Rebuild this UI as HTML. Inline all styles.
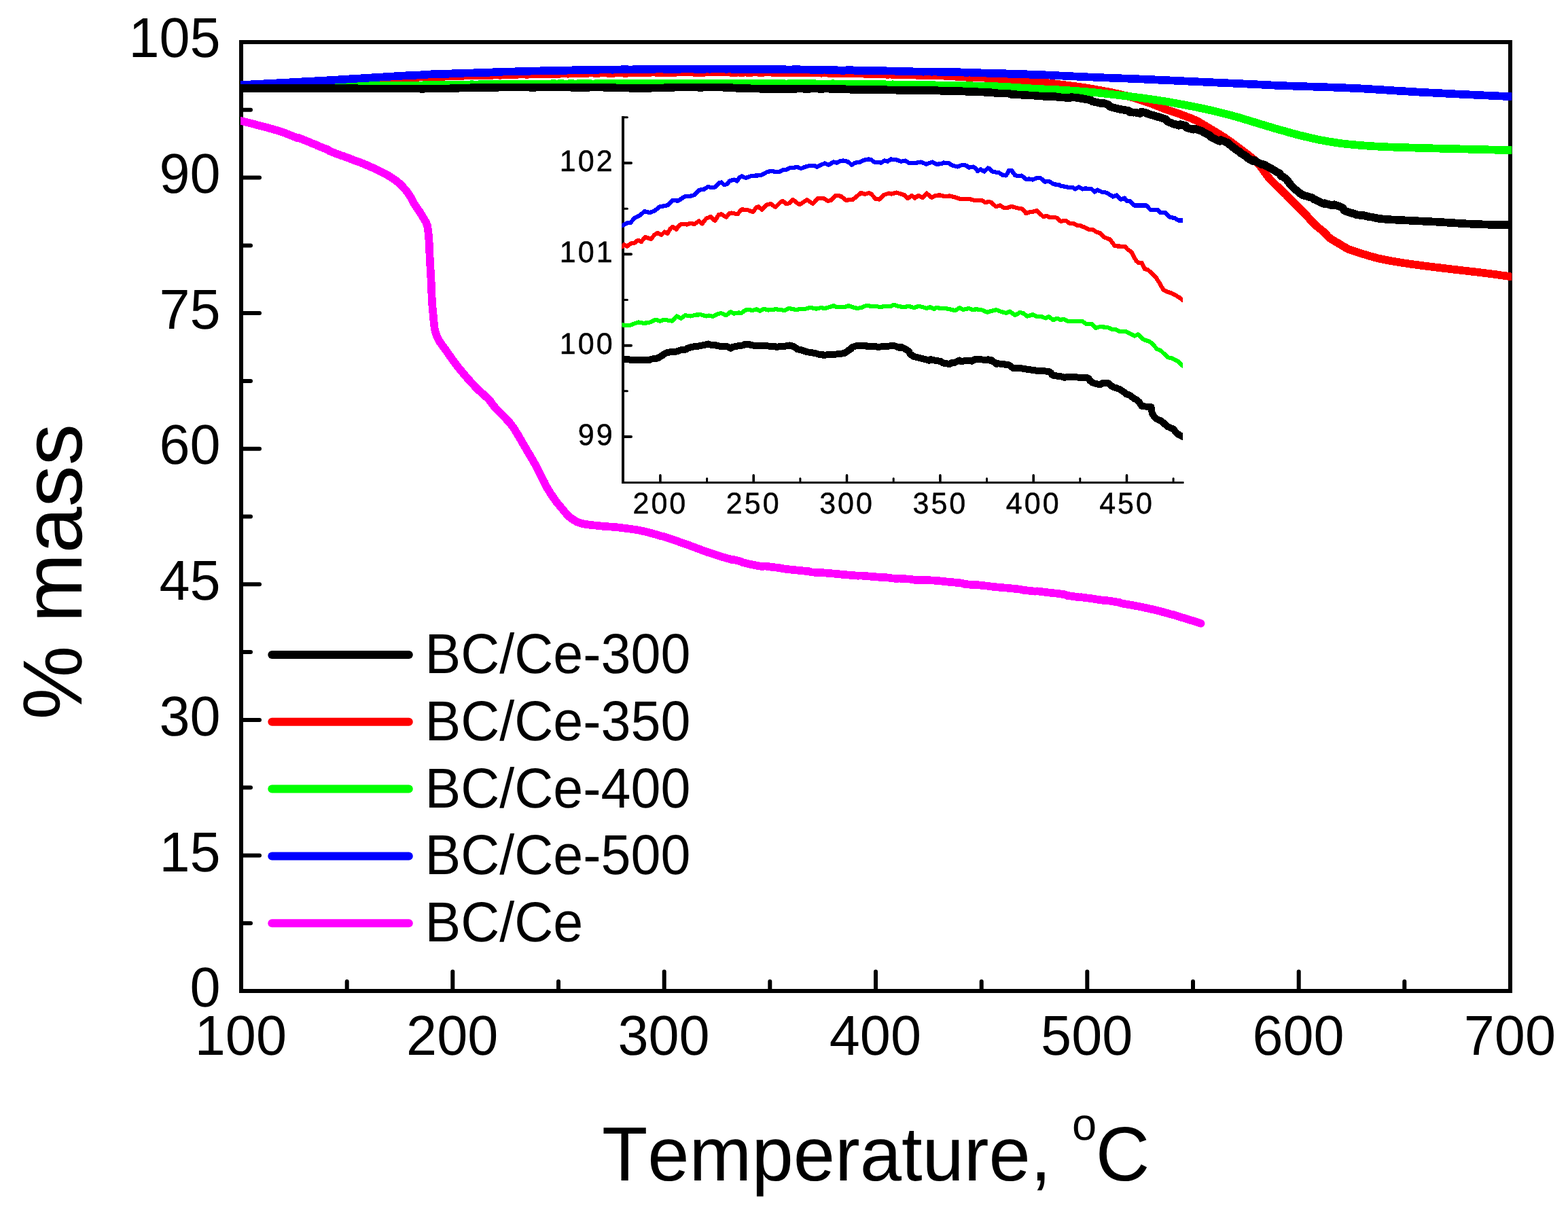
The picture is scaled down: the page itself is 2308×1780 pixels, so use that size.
<!DOCTYPE html>
<html lang="en"><head><meta charset="utf-8"><title>% mass vs Temperature</title>
<style>
html,body{margin:0;padding:0;background:#fff;}
body{width:2308px;height:1780px;overflow:hidden;}
svg{display:block;}
text{font-family:"Liberation Sans",sans-serif;fill:#000;font-kerning:none;font-feature-settings:"kern" 0,"liga" 0;text-rendering:geometricPrecision;}
.tick{font-size:81px;}
.leg{font-size:79px;}
.itick{font-size:43px;letter-spacing:3px;stroke:#000;stroke-width:0.5px;}
.curve{fill:none;stroke-linejoin:round;stroke-linecap:butt;}
.crisp{shape-rendering:crispEdges;}
</style></head><body>
<svg width="2308" height="1780" viewBox="0 0 2308 1780">
<rect x="0" y="0" width="2308" height="1780" fill="#fff"/>
<g id="main-axes" stroke="#000" fill="none">
<rect x="355.0" y="62.0" width="1868.0" height="1397.0" stroke-width="6" stroke-linejoin="miter"/>
<g stroke-width="6" stroke-linecap="round">
<line x1="355.0" y1="1359.2" x2="369" y2="1359.2"/>
<line x1="355.0" y1="1259.4" x2="382" y2="1259.4"/>
<line x1="355.0" y1="1159.6" x2="369" y2="1159.6"/>
<line x1="355.0" y1="1059.9" x2="382" y2="1059.9"/>
<line x1="355.0" y1="960.1" x2="369" y2="960.1"/>
<line x1="355.0" y1="860.3" x2="382" y2="860.3"/>
<line x1="355.0" y1="760.5" x2="369" y2="760.5"/>
<line x1="355.0" y1="660.7" x2="382" y2="660.7"/>
<line x1="355.0" y1="560.9" x2="369" y2="560.9"/>
<line x1="355.0" y1="461.1" x2="382" y2="461.1"/>
<line x1="355.0" y1="361.4" x2="369" y2="361.4"/>
<line x1="355.0" y1="261.6" x2="382" y2="261.6"/>
<line x1="355.0" y1="161.8" x2="369" y2="161.8"/>
<line x1="510.7" y1="1459.0" x2="510.7" y2="1445"/>
<line x1="666.3" y1="1459.0" x2="666.3" y2="1430.5"/>
<line x1="822.0" y1="1459.0" x2="822.0" y2="1445"/>
<line x1="977.7" y1="1459.0" x2="977.7" y2="1430.5"/>
<line x1="1133.3" y1="1459.0" x2="1133.3" y2="1445"/>
<line x1="1289.0" y1="1459.0" x2="1289.0" y2="1430.5"/>
<line x1="1444.7" y1="1459.0" x2="1444.7" y2="1445"/>
<line x1="1600.3" y1="1459.0" x2="1600.3" y2="1430.5"/>
<line x1="1756.0" y1="1459.0" x2="1756.0" y2="1445"/>
<line x1="1911.7" y1="1459.0" x2="1911.7" y2="1430.5"/>
<line x1="2067.3" y1="1459.0" x2="2067.3" y2="1445"/>
</g></g>
<g id="y-labels">
<text transform="translate(324.6,1482.2) scale(1,1.022)" class="tick" text-anchor="end">0</text>
<text transform="translate(324.6,1282.5) scale(1,1.022)" class="tick" text-anchor="end">15</text>
<text transform="translate(324.6,1082.7) scale(1,1.022)" class="tick" text-anchor="end">30</text>
<text transform="translate(324.6,883.0) scale(1,1.022)" class="tick" text-anchor="end">45</text>
<text transform="translate(324.6,683.2) scale(1,1.022)" class="tick" text-anchor="end">60</text>
<text transform="translate(324.6,483.5) scale(1,1.022)" class="tick" text-anchor="end">75</text>
<text transform="translate(324.6,283.7) scale(1,1.022)" class="tick" text-anchor="end">90</text>
<text transform="translate(324.6,84.0) scale(1,1.022)" class="tick" text-anchor="end">105</text>
</g>
<g id="x-labels">
<text transform="translate(354.4,1553.0) scale(1,1.022)" class="tick" text-anchor="middle">100</text>
<text transform="translate(665.7,1553.0) scale(1,1.022)" class="tick" text-anchor="middle">200</text>
<text transform="translate(977.1,1553.0) scale(1,1.022)" class="tick" text-anchor="middle">300</text>
<text transform="translate(1288.4,1553.0) scale(1,1.022)" class="tick" text-anchor="middle">400</text>
<text transform="translate(1599.7,1553.0) scale(1,1.022)" class="tick" text-anchor="middle">500</text>
<text transform="translate(1911.1,1553.0) scale(1,1.022)" class="tick" text-anchor="middle">600</text>
<text transform="translate(2222.4,1553.0) scale(1,1.022)" class="tick" text-anchor="middle">700</text>
</g>
<text id="y-title" transform="translate(120.2,1059.6) rotate(-90) scale(1,1.01)" font-size="122.5px">% mass</text>
<text id="x-title" transform="translate(886,1738.2) scale(1,1.025)" font-size="110.2px">Temperature, <tspan font-size="65px" dy="-59.2">o</tspan><tspan dy="59.2" dx="-1.5">C</tspan></text>
<defs><clipPath id="clip-main"><rect x="354.0" y="0" width="1871.2" height="1780"/></clipPath><clipPath id="clip-inset"><rect x="915.6" y="0" width="825.4" height="1780"/></clipPath></defs>
<g id="main-curves" class="curve" clip-path="url(#clip-main)">
<g stroke="#f0f"><path id="c-mag" class="crisp" stroke-width="11.7" d="M346.0,175.8 L354.0,177.8 L356.9,178.5 L359.8,179.2 L362.8,179.9 L365.7,180.7 L368.6,181.4 L371.5,182.2 L374.4,182.9 L377.3,183.7 L380.2,184.5 L383.1,185.2 L386.0,186.0 L388.9,186.7 L391.8,187.5 L394.7,188.3 L397.6,189.1 L400.5,189.9 L403.4,190.8 L406.3,191.6 L409.1,192.5 L412.0,193.4 L414.8,194.4 L417.7,195.3 L420.5,196.3 L423.3,197.3 L426.2,198.7 L429.0,199.8 L431.8,200.8 L434.6,201.9 L437.4,203.0 L440.2,203.2 L443.0,204.3 L445.8,205.4 L448.6,206.5 L451.4,207.7 L454.1,208.8 L456.9,209.9 L459.7,211.1 L462.5,212.2 L465.3,213.3 L468.1,214.8 L470.9,215.9 L473.7,217.0 L476.5,218.1 L479.3,219.1 L482.1,220.2 L484.9,222.3 L487.7,223.4 L490.5,224.5 L493.3,225.6 L496.1,226.7 L498.9,227.7 L501.7,228.8 L504.5,229.6 L507.3,230.7 L510.2,231.7 L513.0,232.8 L515.8,233.9 L518.6,235.0 L521.4,236.1 L524.2,236.9 L527.0,238.0 L529.8,239.1 L532.6,240.2 L535.4,241.3 L538.1,242.4 L540.9,243.6 L543.7,244.8 L546.4,246.0 L549.1,247.2 L551.9,248.5 L554.6,249.8 L557.3,251.1 L560.0,252.4 L562.7,253.8 L565.4,255.2 L568.0,256.5 L570.6,258.0 L573.2,259.5 L575.7,261.1 L578.2,262.7 L580.7,264.4 L583.2,266.2 L585.6,268.1 L587.8,270.0 L590.0,272.0 L592.1,274.1 L594.2,276.6 L596.2,278.8 L598.2,281.2 L600.0,283.5 L601.8,286.0 L603.4,288.4 L604.9,291.0 L606.3,293.8 L607.7,296.5 L609.2,299.1 L610.7,301.7 L612.4,304.2 L614.1,306.7 L615.9,309.2 L617.6,311.6 L619.2,314.1 L620.8,316.7 L622.3,319.3 L623.9,321.9 L625.5,324.6 L627.0,327.3 L628.1,330.0 L629.0,332.2 L629.5,335.0 L629.9,337.9 L630.3,340.9 L630.6,343.9 L630.9,347.0 L631.2,350.0 L631.4,353.0 L631.6,356.0 L631.8,359.0 L631.9,362.0 L632.1,365.0 L632.2,368.0 L632.3,371.0 L632.4,374.0 L632.6,377.0 L632.7,380.0 L632.8,383.0 L633.0,386.0 L633.2,389.0 L633.4,392.0 L633.5,395.0 L633.7,398.0 L633.9,401.0 L634.1,404.0 L634.3,407.0 L634.4,410.0 L634.6,413.0 L634.7,416.0 L634.9,419.0 L635.0,422.0 L635.1,425.0 L635.2,428.0 L635.3,431.0 L635.5,434.1 L635.6,437.1 L635.8,440.1 L635.9,443.1 L636.1,446.0 L636.3,449.0 L636.6,452.0 L636.8,455.0 L637.1,458.0 L637.4,461.0 L637.7,464.0 L637.9,467.0 L638.2,470.0 L638.5,473.0 L638.8,476.0 L639.2,479.0 L639.6,482.8 L640.1,485.7 L640.8,488.6 L641.8,491.5 L642.9,494.3 L644.1,497.1 L645.4,499.8 L646.8,502.4 L648.4,504.9 L650.2,507.3 L652.0,509.8 L653.8,512.2 L655.6,514.6 L657.3,517.1 L659.0,519.6 L660.7,521.9 L662.4,524.4 L664.1,526.8 L665.8,529.3 L667.6,531.7 L669.4,534.1 L671.2,536.5 L673.1,538.9 L674.9,541.2 L676.8,543.6 L678.7,545.9 L680.7,548.2 L682.6,550.5 L684.5,552.8 L686.5,555.1 L688.5,557.3 L690.5,559.6 L692.5,561.8 L694.5,564.0 L696.6,566.2 L698.6,568.4 L700.7,570.6 L702.8,572.7 L705.0,574.8 L707.2,576.8 L709.5,578.8 L711.8,580.8 L714.0,582.8 L716.2,584.9 L718.2,586.6 L720.2,588.8 L722.0,591.2 L723.8,593.7 L725.5,596.1 L727.4,598.4 L729.4,600.7 L731.5,602.9 L733.6,605.1 L735.7,607.2 L737.8,609.4 L740.0,611.5 L742.1,613.7 L744.2,615.8 L746.3,618.1 L748.3,620.3 L750.3,622.5 L752.2,624.8 L753.9,627.2 L755.7,629.6 L757.3,632.1 L758.9,634.6 L760.5,637.2 L762.1,639.8 L763.6,642.4 L765.1,645.0 L766.6,647.6 L768.1,650.2 L769.6,652.8 L771.2,655.4 L772.7,658.0 L774.3,660.5 L775.9,663.7 L777.5,666.3 L779.1,668.8 L780.6,671.4 L782.1,674.0 L783.7,676.6 L785.1,679.2 L786.5,681.8 L787.9,683.5 L789.2,686.2 L790.5,688.9 L791.8,691.6 L793.1,694.3 L794.4,697.0 L795.8,699.7 L797.1,702.4 L798.5,705.1 L799.9,707.7 L801.4,710.3 L802.9,714.1 L804.4,716.7 L806.0,719.3 L807.5,721.8 L809.1,724.4 L810.7,726.9 L812.4,729.4 L814.1,731.9 L815.8,734.4 L817.5,736.8 L819.3,739.3 L821.1,741.7 L823.0,743.6 L824.9,745.9 L826.8,748.2 L828.7,750.5 L830.6,752.9 L832.6,755.3 L834.6,757.5 L836.7,759.7 L838.9,761.7 L841.2,763.3 L843.7,765.0 L846.3,766.7 L848.9,768.2 L851.7,769.4 L854.5,770.3 L857.3,771.1 L860.3,771.5 L863.3,772.1 L866.3,772.5 L869.3,772.9 L872.2,773.2 L875.2,773.5 L878.2,773.8 L881.2,774.0 L884.2,774.5 L887.2,774.8 L890.2,775.0 L893.2,775.2 L896.2,775.4 L899.2,775.6 L902.2,775.8 L905.2,776.1 L908.2,776.3 L911.2,776.7 L914.2,777.1 L917.2,777.4 L920.2,777.8 L923.2,778.2 L926.1,778.5 L929.1,778.9 L932.1,779.4 L935.1,779.8 L938.0,780.3 L941.0,780.8 L943.9,781.5 L946.9,782.1 L949.8,782.7 L952.7,783.4 L955.6,784.2 L958.5,785.0 L961.4,785.8 L964.3,786.6 L967.2,787.5 L970.1,788.3 L973.0,789.2 L975.9,789.8 L978.7,790.7 L981.6,791.6 L984.5,792.4 L987.3,793.4 L990.2,794.6 L993.1,795.5 L995.9,796.5 L998.8,797.4 L1001.6,798.4 L1004.4,799.4 L1007.3,800.4 L1010.1,801.3 L1013.0,802.3 L1015.8,803.4 L1018.6,804.4 L1021.4,805.5 L1024.2,806.6 L1027.0,807.6 L1029.9,808.7 L1032.7,809.8 L1035.5,810.8 L1038.3,811.9 L1041.1,812.9 L1044.0,813.6 L1046.8,814.6 L1049.7,815.5 L1052.5,816.4 L1055.4,817.3 L1058.2,818.4 L1061.1,819.3 L1064.0,820.2 L1066.9,821.0 L1069.8,821.9 L1072.7,822.7 L1075.5,823.5 L1078.4,824.3 L1081.3,824.3 L1084.3,825.1 L1087.2,825.8 L1090.1,826.6 L1093.0,828.1 L1095.9,828.8 L1098.8,829.5 L1101.8,830.2 L1104.7,830.9 L1107.6,831.5 L1110.6,832.1 L1113.5,832.6 L1116.5,833.1 L1119.4,833.6 L1122.4,834.1 L1125.4,833.4 L1128.4,833.8 L1131.3,834.2 L1134.3,834.6 L1137.3,835.0 L1140.3,835.3 L1143.3,835.7 L1146.3,836.1 L1149.3,836.4 L1152.2,837.2 L1155.2,837.6 L1158.2,838.0 L1161.2,838.3 L1164.2,838.7 L1167.2,838.9 L1170.1,839.2 L1173.1,839.5 L1176.1,839.8 L1179.1,840.1 L1182.1,840.4 L1185.1,840.7 L1188.1,840.9 L1191.1,841.2 L1194.1,842.3 L1197.1,842.5 L1200.1,842.8 L1203.1,843.0 L1206.1,842.9 L1209.1,843.1 L1212.0,843.3 L1215.0,843.5 L1218.0,843.9 L1221.0,844.1 L1224.0,844.3 L1227.0,844.6 L1230.0,844.8 L1233.0,845.0 L1236.0,845.5 L1239.0,845.7 L1242.0,846.0 L1245.0,846.2 L1248.0,846.4 L1251.0,846.7 L1254.0,846.9 L1257.0,847.2 L1260.0,847.4 L1263.0,847.7 L1266.0,847.4 L1269.0,847.6 L1272.0,847.9 L1275.0,848.1 L1278.0,848.4 L1280.9,848.6 L1283.9,848.9 L1286.9,849.1 L1289.9,849.4 L1292.9,849.6 L1295.9,849.9 L1298.9,849.9 L1301.9,850.1 L1304.9,850.3 L1307.9,850.6 L1310.9,851.2 L1313.9,851.4 L1316.9,851.7 L1319.9,851.9 L1322.9,851.6 L1325.9,851.8 L1328.9,852.0 L1331.9,852.2 L1334.9,852.4 L1337.9,852.6 L1340.9,852.8 L1343.9,853.6 L1346.9,853.8 L1349.9,853.9 L1352.9,854.1 L1355.9,854.3 L1358.9,853.7 L1361.9,853.9 L1364.9,854.1 L1367.9,854.2 L1370.9,854.4 L1373.9,854.6 L1376.9,854.8 L1379.9,855.0 L1382.8,855.3 L1385.8,855.5 L1388.8,856.1 L1391.8,856.3 L1394.8,856.6 L1397.8,856.9 L1400.8,857.1 L1403.8,857.4 L1406.8,857.7 L1409.8,858.0 L1412.8,858.3 L1415.8,858.6 L1418.8,859.7 L1421.7,860.1 L1424.7,860.4 L1427.7,860.7 L1430.7,861.0 L1433.7,861.3 L1436.7,861.0 L1439.7,861.3 L1442.7,861.6 L1445.7,861.9 L1448.6,862.2 L1451.6,862.5 L1454.6,862.8 L1457.6,863.4 L1460.6,863.7 L1463.6,864.0 L1466.6,864.3 L1469.6,864.6 L1472.6,864.8 L1475.6,865.1 L1478.5,865.4 L1481.5,865.6 L1484.5,865.9 L1487.5,866.2 L1490.5,866.5 L1493.5,866.8 L1496.5,867.1 L1499.5,867.5 L1502.5,867.8 L1505.4,868.6 L1508.4,869.0 L1511.4,869.3 L1514.4,869.6 L1517.4,870.0 L1520.4,870.3 L1523.4,870.7 L1526.3,870.3 L1529.3,870.7 L1532.3,871.1 L1535.3,871.4 L1538.3,871.8 L1541.3,872.2 L1544.2,872.6 L1547.2,872.9 L1550.2,873.3 L1553.2,873.4 L1556.2,873.8 L1559.1,874.2 L1562.1,874.6 L1565.1,875.0 L1568.1,875.4 L1571.0,876.9 L1574.0,877.3 L1577.0,877.7 L1580.0,878.1 L1582.9,878.5 L1585.9,879.0 L1588.9,879.4 L1591.9,879.3 L1594.8,879.7 L1597.8,880.1 L1600.8,880.6 L1603.8,880.8 L1606.7,881.3 L1609.7,881.7 L1612.7,882.2 L1615.6,882.6 L1618.6,883.1 L1621.6,883.5 L1624.6,883.9 L1627.5,883.8 L1630.5,884.3 L1633.5,884.7 L1636.4,885.2 L1639.4,885.6 L1642.4,886.1 L1645.4,886.6 L1648.3,887.0 L1651.3,888.4 L1654.2,888.9 L1657.2,889.4 L1660.2,889.9 L1663.1,890.4 L1666.1,891.0 L1669.0,891.5 L1672.0,892.1 L1675.0,892.6 L1677.9,893.2 L1680.9,893.8 L1683.8,894.5 L1686.7,895.1 L1689.7,895.7 L1692.6,896.3 L1695.5,897.0 L1698.5,897.7 L1701.4,898.4 L1704.3,899.1 L1707.2,899.8 L1710.1,900.6 L1713.0,901.4 L1715.9,902.2 L1718.8,903.0 L1721.7,903.8 L1724.5,904.7 L1727.4,905.2 L1730.3,906.1 L1733.2,907.0 L1736.1,907.9 L1738.9,908.9 L1741.8,909.7 L1744.7,910.6 L1747.6,911.5 L1750.4,912.4 L1753.3,913.3 L1756.2,914.2 L1759.0,915.1 L1761.9,916.0 L1764.7,917.0 L1767.6,917.9"/><path stroke-width="10.1" d="M346.0,175.8 L354.0,177.8 L356.9,178.5 L359.8,179.2 L362.8,179.9 L365.7,180.7 L368.6,181.4 L371.5,182.2 L374.4,182.9 L377.3,183.7 L380.2,184.5 L383.1,185.2 L386.0,186.0 L388.9,186.7 L391.8,187.5 L394.7,188.3 L397.6,189.1 L400.5,189.9 L403.4,190.8 L406.3,191.6 L409.1,192.5 L412.0,193.4 L414.8,194.4 L417.7,195.3 L420.5,196.3 L423.3,197.3 L426.2,198.7 L429.0,199.8 L431.8,200.8 L434.6,201.9 L437.4,203.0 L440.2,203.2 L443.0,204.3 L445.8,205.4 L448.6,206.5 L451.4,207.7 L454.1,208.8 L456.9,209.9 L459.7,211.1 L462.5,212.2 L465.3,213.3 L468.1,214.8 L470.9,215.9 L473.7,217.0 L476.5,218.1 L479.3,219.1 L482.1,220.2 L484.9,222.3 L487.7,223.4 L490.5,224.5 L493.3,225.6 L496.1,226.7 L498.9,227.7 L501.7,228.8 L504.5,229.6 L507.3,230.7 L510.2,231.7 L513.0,232.8 L515.8,233.9 L518.6,235.0 L521.4,236.1 L524.2,236.9 L527.0,238.0 L529.8,239.1 L532.6,240.2 L535.4,241.3 L538.1,242.4 L540.9,243.6 L543.7,244.8 L546.4,246.0 L549.1,247.2 L551.9,248.5 L554.6,249.8 L557.3,251.1 L560.0,252.4 L562.7,253.8 L565.4,255.2 L568.0,256.5 L570.6,258.0 L573.2,259.5 L575.7,261.1 L578.2,262.7 L580.7,264.4 L583.2,266.2 L585.6,268.1 L587.8,270.0 L590.0,272.0 L592.1,274.1 L594.2,276.6 L596.2,278.8 L598.2,281.2 L600.0,283.5 L601.8,286.0 L603.4,288.4 L604.9,291.0 L606.3,293.8 L607.7,296.5 L609.2,299.1 L610.7,301.7 L612.4,304.2 L614.1,306.7 L615.9,309.2 L617.6,311.6 L619.2,314.1 L620.8,316.7 L622.3,319.3 L623.9,321.9 L625.5,324.6 L627.0,327.3 L628.1,330.0 L629.0,332.2 L629.5,335.0 L629.9,337.9 L630.3,340.9 L630.6,343.9 L630.9,347.0 L631.2,350.0 L631.4,353.0 L631.6,356.0 L631.8,359.0 L631.9,362.0 L632.1,365.0 L632.2,368.0 L632.3,371.0 L632.4,374.0 L632.6,377.0 L632.7,380.0 L632.8,383.0 L633.0,386.0 L633.2,389.0 L633.4,392.0 L633.5,395.0 L633.7,398.0 L633.9,401.0 L634.1,404.0 L634.3,407.0 L634.4,410.0 L634.6,413.0 L634.7,416.0 L634.9,419.0 L635.0,422.0 L635.1,425.0 L635.2,428.0 L635.3,431.0 L635.5,434.1 L635.6,437.1 L635.8,440.1 L635.9,443.1 L636.1,446.0 L636.3,449.0 L636.6,452.0 L636.8,455.0 L637.1,458.0 L637.4,461.0 L637.7,464.0 L637.9,467.0 L638.2,470.0 L638.5,473.0 L638.8,476.0 L639.2,479.0 L639.6,482.8 L640.1,485.7 L640.8,488.6 L641.8,491.5 L642.9,494.3 L644.1,497.1 L645.4,499.8 L646.8,502.4 L648.4,504.9 L650.2,507.3 L652.0,509.8 L653.8,512.2 L655.6,514.6 L657.3,517.1 L659.0,519.6 L660.7,521.9 L662.4,524.4 L664.1,526.8 L665.8,529.3 L667.6,531.7 L669.4,534.1 L671.2,536.5 L673.1,538.9 L674.9,541.2 L676.8,543.6 L678.7,545.9 L680.7,548.2 L682.6,550.5 L684.5,552.8 L686.5,555.1 L688.5,557.3 L690.5,559.6 L692.5,561.8 L694.5,564.0 L696.6,566.2 L698.6,568.4 L700.7,570.6 L702.8,572.7 L705.0,574.8 L707.2,576.8 L709.5,578.8 L711.8,580.8 L714.0,582.8 L716.2,584.9 L718.2,586.6 L720.2,588.8 L722.0,591.2 L723.8,593.7 L725.5,596.1 L727.4,598.4 L729.4,600.7 L731.5,602.9 L733.6,605.1 L735.7,607.2 L737.8,609.4 L740.0,611.5 L742.1,613.7 L744.2,615.8 L746.3,618.1 L748.3,620.3 L750.3,622.5 L752.2,624.8 L753.9,627.2 L755.7,629.6 L757.3,632.1 L758.9,634.6 L760.5,637.2 L762.1,639.8 L763.6,642.4 L765.1,645.0 L766.6,647.6 L768.1,650.2 L769.6,652.8 L771.2,655.4 L772.7,658.0 L774.3,660.5 L775.9,663.7 L777.5,666.3 L779.1,668.8 L780.6,671.4 L782.1,674.0 L783.7,676.6 L785.1,679.2 L786.5,681.8 L787.9,683.5 L789.2,686.2 L790.5,688.9 L791.8,691.6 L793.1,694.3 L794.4,697.0 L795.8,699.7 L797.1,702.4 L798.5,705.1 L799.9,707.7 L801.4,710.3 L802.9,714.1 L804.4,716.7 L806.0,719.3 L807.5,721.8 L809.1,724.4 L810.7,726.9 L812.4,729.4 L814.1,731.9 L815.8,734.4 L817.5,736.8 L819.3,739.3 L821.1,741.7 L823.0,743.6 L824.9,745.9 L826.8,748.2 L828.7,750.5 L830.6,752.9 L832.6,755.3 L834.6,757.5 L836.7,759.7 L838.9,761.7 L841.2,763.3 L843.7,765.0 L846.3,766.7 L848.9,768.2 L851.7,769.4 L854.5,770.3 L857.3,771.1 L860.3,771.5 L863.3,772.1 L866.3,772.5 L869.3,772.9 L872.2,773.2 L875.2,773.5 L878.2,773.8 L881.2,774.0 L884.2,774.5 L887.2,774.8 L890.2,775.0 L893.2,775.2 L896.2,775.4 L899.2,775.6 L902.2,775.8 L905.2,776.1 L908.2,776.3 L911.2,776.7 L914.2,777.1 L917.2,777.4 L920.2,777.8 L923.2,778.2 L926.1,778.5 L929.1,778.9 L932.1,779.4 L935.1,779.8 L938.0,780.3 L941.0,780.8 L943.9,781.5 L946.9,782.1 L949.8,782.7 L952.7,783.4 L955.6,784.2 L958.5,785.0 L961.4,785.8 L964.3,786.6 L967.2,787.5 L970.1,788.3 L973.0,789.2 L975.9,789.8 L978.7,790.7 L981.6,791.6 L984.5,792.4 L987.3,793.4 L990.2,794.6 L993.1,795.5 L995.9,796.5 L998.8,797.4 L1001.6,798.4 L1004.4,799.4 L1007.3,800.4 L1010.1,801.3 L1013.0,802.3 L1015.8,803.4 L1018.6,804.4 L1021.4,805.5 L1024.2,806.6 L1027.0,807.6 L1029.9,808.7 L1032.7,809.8 L1035.5,810.8 L1038.3,811.9 L1041.1,812.9 L1044.0,813.6 L1046.8,814.6 L1049.7,815.5 L1052.5,816.4 L1055.4,817.3 L1058.2,818.4 L1061.1,819.3 L1064.0,820.2 L1066.9,821.0 L1069.8,821.9 L1072.7,822.7 L1075.5,823.5 L1078.4,824.3 L1081.3,824.3 L1084.3,825.1 L1087.2,825.8 L1090.1,826.6 L1093.0,828.1 L1095.9,828.8 L1098.8,829.5 L1101.8,830.2 L1104.7,830.9 L1107.6,831.5 L1110.6,832.1 L1113.5,832.6 L1116.5,833.1 L1119.4,833.6 L1122.4,834.1 L1125.4,833.4 L1128.4,833.8 L1131.3,834.2 L1134.3,834.6 L1137.3,835.0 L1140.3,835.3 L1143.3,835.7 L1146.3,836.1 L1149.3,836.4 L1152.2,837.2 L1155.2,837.6 L1158.2,838.0 L1161.2,838.3 L1164.2,838.7 L1167.2,838.9 L1170.1,839.2 L1173.1,839.5 L1176.1,839.8 L1179.1,840.1 L1182.1,840.4 L1185.1,840.7 L1188.1,840.9 L1191.1,841.2 L1194.1,842.3 L1197.1,842.5 L1200.1,842.8 L1203.1,843.0 L1206.1,842.9 L1209.1,843.1 L1212.0,843.3 L1215.0,843.5 L1218.0,843.9 L1221.0,844.1 L1224.0,844.3 L1227.0,844.6 L1230.0,844.8 L1233.0,845.0 L1236.0,845.5 L1239.0,845.7 L1242.0,846.0 L1245.0,846.2 L1248.0,846.4 L1251.0,846.7 L1254.0,846.9 L1257.0,847.2 L1260.0,847.4 L1263.0,847.7 L1266.0,847.4 L1269.0,847.6 L1272.0,847.9 L1275.0,848.1 L1278.0,848.4 L1280.9,848.6 L1283.9,848.9 L1286.9,849.1 L1289.9,849.4 L1292.9,849.6 L1295.9,849.9 L1298.9,849.9 L1301.9,850.1 L1304.9,850.3 L1307.9,850.6 L1310.9,851.2 L1313.9,851.4 L1316.9,851.7 L1319.9,851.9 L1322.9,851.6 L1325.9,851.8 L1328.9,852.0 L1331.9,852.2 L1334.9,852.4 L1337.9,852.6 L1340.9,852.8 L1343.9,853.6 L1346.9,853.8 L1349.9,853.9 L1352.9,854.1 L1355.9,854.3 L1358.9,853.7 L1361.9,853.9 L1364.9,854.1 L1367.9,854.2 L1370.9,854.4 L1373.9,854.6 L1376.9,854.8 L1379.9,855.0 L1382.8,855.3 L1385.8,855.5 L1388.8,856.1 L1391.8,856.3 L1394.8,856.6 L1397.8,856.9 L1400.8,857.1 L1403.8,857.4 L1406.8,857.7 L1409.8,858.0 L1412.8,858.3 L1415.8,858.6 L1418.8,859.7 L1421.7,860.1 L1424.7,860.4 L1427.7,860.7 L1430.7,861.0 L1433.7,861.3 L1436.7,861.0 L1439.7,861.3 L1442.7,861.6 L1445.7,861.9 L1448.6,862.2 L1451.6,862.5 L1454.6,862.8 L1457.6,863.4 L1460.6,863.7 L1463.6,864.0 L1466.6,864.3 L1469.6,864.6 L1472.6,864.8 L1475.6,865.1 L1478.5,865.4 L1481.5,865.6 L1484.5,865.9 L1487.5,866.2 L1490.5,866.5 L1493.5,866.8 L1496.5,867.1 L1499.5,867.5 L1502.5,867.8 L1505.4,868.6 L1508.4,869.0 L1511.4,869.3 L1514.4,869.6 L1517.4,870.0 L1520.4,870.3 L1523.4,870.7 L1526.3,870.3 L1529.3,870.7 L1532.3,871.1 L1535.3,871.4 L1538.3,871.8 L1541.3,872.2 L1544.2,872.6 L1547.2,872.9 L1550.2,873.3 L1553.2,873.4 L1556.2,873.8 L1559.1,874.2 L1562.1,874.6 L1565.1,875.0 L1568.1,875.4 L1571.0,876.9 L1574.0,877.3 L1577.0,877.7 L1580.0,878.1 L1582.9,878.5 L1585.9,879.0 L1588.9,879.4 L1591.9,879.3 L1594.8,879.7 L1597.8,880.1 L1600.8,880.6 L1603.8,880.8 L1606.7,881.3 L1609.7,881.7 L1612.7,882.2 L1615.6,882.6 L1618.6,883.1 L1621.6,883.5 L1624.6,883.9 L1627.5,883.8 L1630.5,884.3 L1633.5,884.7 L1636.4,885.2 L1639.4,885.6 L1642.4,886.1 L1645.4,886.6 L1648.3,887.0 L1651.3,888.4 L1654.2,888.9 L1657.2,889.4 L1660.2,889.9 L1663.1,890.4 L1666.1,891.0 L1669.0,891.5 L1672.0,892.1 L1675.0,892.6 L1677.9,893.2 L1680.9,893.8 L1683.8,894.5 L1686.7,895.1 L1689.7,895.7 L1692.6,896.3 L1695.5,897.0 L1698.5,897.7 L1701.4,898.4 L1704.3,899.1 L1707.2,899.8 L1710.1,900.6 L1713.0,901.4 L1715.9,902.2 L1718.8,903.0 L1721.7,903.8 L1724.5,904.7 L1727.4,905.2 L1730.3,906.1 L1733.2,907.0 L1736.1,907.9 L1738.9,908.9 L1741.8,909.7 L1744.7,910.6 L1747.6,911.5 L1750.4,912.4 L1753.3,913.3 L1756.2,914.2 L1759.0,915.1 L1761.9,916.0 L1764.7,917.0 L1767.6,917.9"/></g>
<circle cx="1767.6" cy="917.9" r="5.85" fill="#f0f"/>
<g stroke="#f00"><path id="c-red" class="crisp" stroke-width="11.7" d="M346.0,125.8 L354.0,125.4 L524.0,116.5 L602.7,114.1 L605.6,113.8 L610.7,114.1 L617.9,113.6 L623.0,113.6 L628.8,113.2 L634.6,113.4 L641.2,112.7 L650.6,113.0 L657.2,112.4 L662.3,112.1 L668.1,112.4 L673.2,112.0 L678.3,112.2 L683.3,111.5 L687.0,111.2 L692.8,111.6 L699.3,110.9 L703.7,110.8 L711.0,110.9 L716.8,110.7 L723.3,110.8 L730.6,110.4 L736.4,110.8 L742.9,110.0 L750.2,109.7 L757.5,110.3 L764.0,109.4 L768.4,109.4 L776.4,109.8 L782.2,109.2 L785.1,109.2 L795.3,109.4 L801.8,108.7 L811.2,108.7 L820.7,109.0 L827.2,108.4 L830.1,108.3 L835.9,108.7 L843.2,108.0 L850.5,107.8 L858.5,108.4 L866.5,107.7 L870.8,107.5 L876.6,107.9 L881.7,107.8 L887.5,107.2 L894.1,107.7 L899.2,108.0 L902.2,107.8 L910.9,107.3 L921.1,107.9 L929.1,107.1 L938.6,107.0 L945.8,107.4 L951.6,107.3 L958.9,106.6 L967.6,106.7 L976.4,107.3 L988.0,107.2 L1001.1,106.3 L1008.3,106.5 L1014.1,106.3 L1018.5,106.5 L1025.8,107.2 L1031.6,107.2 L1038.9,106.6 L1047.6,106.3 L1051.9,106.4 L1060.7,106.2 L1073.7,106.6 L1079.5,107.1 L1086.1,106.6 L1091.2,107.0 L1097.0,106.6 L1104.3,107.0 L1110.8,106.3 L1118.8,106.9 L1126.1,106.6 L1133.3,106.6 L1140.6,106.8 L1149.3,106.7 L1158.0,106.9 L1166.8,107.2 L1181.3,107.1 L1188.6,107.3 L1201.6,107.3 L1208.9,107.7 L1214.7,107.5 L1219.2,107.7 L1226.2,108.3 L1233.2,108.1 L1239.5,108.4 L1245.7,108.4 L1252.7,108.2 L1261.3,108.5 L1270.6,108.6 L1276.8,109.3 L1283.1,109.1 L1289.3,109.0 L1294.8,108.9 L1305.7,109.8 L1310.3,109.6 L1315.0,109.8 L1323.6,109.8 L1328.2,109.9 L1334.5,110.4 L1340.7,110.3 L1343.8,110.3 L1348.5,110.7 L1356.3,110.7 L1362.5,111.0 L1367.2,111.0 L1371.8,111.2 L1374.9,111.3 L1381.2,111.6 L1388.2,111.6 L1393.6,112.0 L1399.9,112.1 L1407.7,112.8 L1417.0,113.1 L1424.8,114.0 L1441.9,114.1 L1445.8,114.5 L1452.0,114.8 L1460.6,116.2 L1464.5,116.5 L1469.9,116.5 L1474.6,117.4 L1480.1,117.5 L1487.1,118.0 L1493.3,118.6 L1498.8,119.3 L1505.8,120.4 L1510.4,120.6 L1521.3,121.0 L1532.2,121.5 L1538.2,121.9 L1541.3,122.1 L1544.3,122.4 L1547.3,122.8 L1550.3,123.1 L1553.3,123.5 L1556.2,123.8 L1559.2,124.2 L1562.2,124.5 L1565.2,124.9 L1568.2,125.3 L1571.2,125.7 L1574.2,126.0 L1577.1,126.4 L1580.1,126.8 L1583.1,127.2 L1586.1,127.6 L1589.1,128.0 L1592.1,128.4 L1595.0,128.9 L1598.0,129.3 L1601.0,129.8 L1604.0,130.3 L1606.9,130.8 L1609.9,131.3 L1612.8,131.9 L1615.8,132.4 L1618.8,132.9 L1621.7,133.5 L1624.7,134.0 L1627.7,134.5 L1630.6,135.1 L1633.6,135.6 L1636.5,136.2 L1639.5,136.8 L1642.4,137.5 L1645.3,138.1 L1648.3,138.8 L1651.2,139.5 L1654.1,140.2 L1657.1,140.9 L1660.0,141.6 L1662.9,142.4 L1665.8,143.2 L1668.7,144.0 L1671.6,144.9 L1674.4,145.8 L1677.3,146.7 L1680.2,147.7 L1683.0,148.6 L1685.9,149.6 L1688.7,150.6 L1691.5,151.6 L1694.4,152.6 L1697.2,153.6 L1700.0,154.7 L1702.8,155.8 L1705.6,156.9 L1708.4,158.1 L1711.2,159.2 L1714.0,160.2 L1716.8,161.3 L1719.7,162.3 L1722.5,163.3 L1725.4,164.2 L1728.2,165.2 L1731.1,166.1 L1733.9,167.1 L1736.8,168.1 L1739.6,169.2 L1742.4,170.2 L1745.3,171.2 L1748.1,172.3 L1750.9,173.3 L1753.7,174.4 L1756.5,175.6 L1759.2,176.8 L1761.9,178.1 L1764.6,179.5 L1767.2,181.0 L1769.8,182.5 L1772.4,184.1 L1774.9,185.6 L1777.5,187.2 L1780.1,188.8 L1782.7,190.3 L1785.3,191.8 L1787.9,193.4 L1790.5,194.9 L1793.0,196.5 L1795.6,198.1 L1798.1,199.7 L1800.7,201.3 L1803.2,203.0 L1805.7,204.7 L1808.1,206.4 L1810.6,208.1 L1813.0,209.9 L1815.5,211.6 L1817.9,213.4 L1820.3,215.2 L1822.7,217.0 L1825.2,218.8 L1827.5,220.6 L1829.9,222.4 L1832.3,224.3 L1834.7,226.1 L1837.1,228.0 L1839.5,229.8 L1841.9,231.7 L1844.2,233.6 L1846.5,235.5 L1848.7,237.5 L1850.8,239.6 L1852.8,241.9 L1854.7,244.2 L1856.5,246.6 L1858.3,249.0 L1860.0,251.5 L1861.8,254.0 L1863.6,256.4 L1865.4,258.9 L1867.2,261.3 L1869.2,263.6 L1871.2,265.8 L1873.3,267.9 L1875.4,270.0 L1877.6,272.0 L1879.8,274.1 L1882.1,276.1 L1884.3,278.2 L1886.5,280.3 L1888.6,282.4 L1890.7,284.5 L1892.9,286.6 L1895.0,288.8 L1897.1,290.9 L1899.2,293.0 L1901.4,295.2 L1903.5,297.3 L1905.6,299.4 L1907.7,301.5 L1909.9,303.7 L1912.0,305.8 L1914.1,307.9 L1916.2,310.1 L1918.4,312.2 L1920.4,314.4 L1922.5,316.6 L1924.5,318.8 L1926.5,321.1 L1928.5,323.3 L1930.6,325.6 L1932.6,327.7 L1934.7,329.9 L1936.9,331.9 L1939.2,333.9 L1941.5,335.8 L1943.9,337.7 L1946.2,339.6 L1948.5,341.5 L1950.7,343.6 L1952.7,345.9 L1954.8,348.1 L1956.9,350.1 L1959.3,351.9 L1961.9,353.5 L1964.5,355.0 L1967.1,356.5 L1969.7,358.0 L1972.3,359.6 L1974.9,361.2 L1977.5,362.8 L1980.1,364.3 L1982.7,365.7 L1985.4,367.0 L1988.2,368.1 L1991.0,369.1 L1993.9,370.1 L1996.7,371.0 L1999.6,371.9 L2002.5,372.8 L2005.4,373.7 L2008.2,374.6 L2011.1,375.5 L2014.0,376.4 L2016.9,377.2 L2019.8,378.0 L2022.7,378.8 L2025.6,379.5 L2028.5,380.3 L2031.5,381.0 L2034.4,381.6 L2037.3,382.2 L2040.3,382.8 L2043.2,383.4 L2046.2,383.9 L2049.2,384.5 L2052.1,385.0 L2055.1,385.5 L2058.1,386.0 L2061.1,386.5 L2064.0,386.9 L2067.0,387.4 L2070.0,387.8 L2072.9,388.3 L2075.9,388.7 L2078.9,389.1 L2081.9,389.5 L2084.9,389.9 L2087.9,390.3 L2090.8,390.7 L2093.8,391.1 L2096.8,391.5 L2099.8,391.8 L2102.8,392.2 L2105.8,392.6 L2108.8,393.0 L2111.7,393.3 L2114.7,393.7 L2117.7,394.1 L2120.7,394.4 L2123.7,394.8 L2126.7,395.1 L2129.7,395.5 L2132.7,395.8 L2135.6,396.2 L2138.6,396.5 L2141.6,396.9 L2144.6,397.2 L2147.6,397.6 L2150.6,397.9 L2153.6,398.3 L2156.6,398.6 L2159.6,399.0 L2162.6,399.3 L2165.5,399.7 L2168.5,400.0 L2171.5,400.4 L2174.5,400.7 L2177.5,401.1 L2180.5,401.5 L2183.5,401.8 L2186.5,402.2 L2189.4,402.6 L2192.4,402.9 L2195.4,403.3 L2198.4,403.7 L2201.4,404.1 L2204.4,404.5 L2207.3,405.0 L2210.3,405.4 L2213.3,405.8 L2216.3,406.2 L2219.2,406.7 L2222.2,407.1 L2225.2,407.6 L2233.2,408.8"/><path stroke-width="10.1" d="M346.0,125.8 L354.0,125.4 L524.0,116.5 L602.7,114.1 L605.6,113.8 L610.7,114.1 L617.9,113.6 L623.0,113.6 L628.8,113.2 L634.6,113.4 L641.2,112.7 L650.6,113.0 L657.2,112.4 L662.3,112.1 L668.1,112.4 L673.2,112.0 L678.3,112.2 L683.3,111.5 L687.0,111.2 L692.8,111.6 L699.3,110.9 L703.7,110.8 L711.0,110.9 L716.8,110.7 L723.3,110.8 L730.6,110.4 L736.4,110.8 L742.9,110.0 L750.2,109.7 L757.5,110.3 L764.0,109.4 L768.4,109.4 L776.4,109.8 L782.2,109.2 L785.1,109.2 L795.3,109.4 L801.8,108.7 L811.2,108.7 L820.7,109.0 L827.2,108.4 L830.1,108.3 L835.9,108.7 L843.2,108.0 L850.5,107.8 L858.5,108.4 L866.5,107.7 L870.8,107.5 L876.6,107.9 L881.7,107.8 L887.5,107.2 L894.1,107.7 L899.2,108.0 L902.2,107.8 L910.9,107.3 L921.1,107.9 L929.1,107.1 L938.6,107.0 L945.8,107.4 L951.6,107.3 L958.9,106.6 L967.6,106.7 L976.4,107.3 L988.0,107.2 L1001.1,106.3 L1008.3,106.5 L1014.1,106.3 L1018.5,106.5 L1025.8,107.2 L1031.6,107.2 L1038.9,106.6 L1047.6,106.3 L1051.9,106.4 L1060.7,106.2 L1073.7,106.6 L1079.5,107.1 L1086.1,106.6 L1091.2,107.0 L1097.0,106.6 L1104.3,107.0 L1110.8,106.3 L1118.8,106.9 L1126.1,106.6 L1133.3,106.6 L1140.6,106.8 L1149.3,106.7 L1158.0,106.9 L1166.8,107.2 L1181.3,107.1 L1188.6,107.3 L1201.6,107.3 L1208.9,107.7 L1214.7,107.5 L1219.2,107.7 L1226.2,108.3 L1233.2,108.1 L1239.5,108.4 L1245.7,108.4 L1252.7,108.2 L1261.3,108.5 L1270.6,108.6 L1276.8,109.3 L1283.1,109.1 L1289.3,109.0 L1294.8,108.9 L1305.7,109.8 L1310.3,109.6 L1315.0,109.8 L1323.6,109.8 L1328.2,109.9 L1334.5,110.4 L1340.7,110.3 L1343.8,110.3 L1348.5,110.7 L1356.3,110.7 L1362.5,111.0 L1367.2,111.0 L1371.8,111.2 L1374.9,111.3 L1381.2,111.6 L1388.2,111.6 L1393.6,112.0 L1399.9,112.1 L1407.7,112.8 L1417.0,113.1 L1424.8,114.0 L1441.9,114.1 L1445.8,114.5 L1452.0,114.8 L1460.6,116.2 L1464.5,116.5 L1469.9,116.5 L1474.6,117.4 L1480.1,117.5 L1487.1,118.0 L1493.3,118.6 L1498.8,119.3 L1505.8,120.4 L1510.4,120.6 L1521.3,121.0 L1532.2,121.5 L1538.2,121.9 L1541.3,122.1 L1544.3,122.4 L1547.3,122.8 L1550.3,123.1 L1553.3,123.5 L1556.2,123.8 L1559.2,124.2 L1562.2,124.5 L1565.2,124.9 L1568.2,125.3 L1571.2,125.7 L1574.2,126.0 L1577.1,126.4 L1580.1,126.8 L1583.1,127.2 L1586.1,127.6 L1589.1,128.0 L1592.1,128.4 L1595.0,128.9 L1598.0,129.3 L1601.0,129.8 L1604.0,130.3 L1606.9,130.8 L1609.9,131.3 L1612.8,131.9 L1615.8,132.4 L1618.8,132.9 L1621.7,133.5 L1624.7,134.0 L1627.7,134.5 L1630.6,135.1 L1633.6,135.6 L1636.5,136.2 L1639.5,136.8 L1642.4,137.5 L1645.3,138.1 L1648.3,138.8 L1651.2,139.5 L1654.1,140.2 L1657.1,140.9 L1660.0,141.6 L1662.9,142.4 L1665.8,143.2 L1668.7,144.0 L1671.6,144.9 L1674.4,145.8 L1677.3,146.7 L1680.2,147.7 L1683.0,148.6 L1685.9,149.6 L1688.7,150.6 L1691.5,151.6 L1694.4,152.6 L1697.2,153.6 L1700.0,154.7 L1702.8,155.8 L1705.6,156.9 L1708.4,158.1 L1711.2,159.2 L1714.0,160.2 L1716.8,161.3 L1719.7,162.3 L1722.5,163.3 L1725.4,164.2 L1728.2,165.2 L1731.1,166.1 L1733.9,167.1 L1736.8,168.1 L1739.6,169.2 L1742.4,170.2 L1745.3,171.2 L1748.1,172.3 L1750.9,173.3 L1753.7,174.4 L1756.5,175.6 L1759.2,176.8 L1761.9,178.1 L1764.6,179.5 L1767.2,181.0 L1769.8,182.5 L1772.4,184.1 L1774.9,185.6 L1777.5,187.2 L1780.1,188.8 L1782.7,190.3 L1785.3,191.8 L1787.9,193.4 L1790.5,194.9 L1793.0,196.5 L1795.6,198.1 L1798.1,199.7 L1800.7,201.3 L1803.2,203.0 L1805.7,204.7 L1808.1,206.4 L1810.6,208.1 L1813.0,209.9 L1815.5,211.6 L1817.9,213.4 L1820.3,215.2 L1822.7,217.0 L1825.2,218.8 L1827.5,220.6 L1829.9,222.4 L1832.3,224.3 L1834.7,226.1 L1837.1,228.0 L1839.5,229.8 L1841.9,231.7 L1844.2,233.6 L1846.5,235.5 L1848.7,237.5 L1850.8,239.6 L1852.8,241.9 L1854.7,244.2 L1856.5,246.6 L1858.3,249.0 L1860.0,251.5 L1861.8,254.0 L1863.6,256.4 L1865.4,258.9 L1867.2,261.3 L1869.2,263.6 L1871.2,265.8 L1873.3,267.9 L1875.4,270.0 L1877.6,272.0 L1879.8,274.1 L1882.1,276.1 L1884.3,278.2 L1886.5,280.3 L1888.6,282.4 L1890.7,284.5 L1892.9,286.6 L1895.0,288.8 L1897.1,290.9 L1899.2,293.0 L1901.4,295.2 L1903.5,297.3 L1905.6,299.4 L1907.7,301.5 L1909.9,303.7 L1912.0,305.8 L1914.1,307.9 L1916.2,310.1 L1918.4,312.2 L1920.4,314.4 L1922.5,316.6 L1924.5,318.8 L1926.5,321.1 L1928.5,323.3 L1930.6,325.6 L1932.6,327.7 L1934.7,329.9 L1936.9,331.9 L1939.2,333.9 L1941.5,335.8 L1943.9,337.7 L1946.2,339.6 L1948.5,341.5 L1950.7,343.6 L1952.7,345.9 L1954.8,348.1 L1956.9,350.1 L1959.3,351.9 L1961.9,353.5 L1964.5,355.0 L1967.1,356.5 L1969.7,358.0 L1972.3,359.6 L1974.9,361.2 L1977.5,362.8 L1980.1,364.3 L1982.7,365.7 L1985.4,367.0 L1988.2,368.1 L1991.0,369.1 L1993.9,370.1 L1996.7,371.0 L1999.6,371.9 L2002.5,372.8 L2005.4,373.7 L2008.2,374.6 L2011.1,375.5 L2014.0,376.4 L2016.9,377.2 L2019.8,378.0 L2022.7,378.8 L2025.6,379.5 L2028.5,380.3 L2031.5,381.0 L2034.4,381.6 L2037.3,382.2 L2040.3,382.8 L2043.2,383.4 L2046.2,383.9 L2049.2,384.5 L2052.1,385.0 L2055.1,385.5 L2058.1,386.0 L2061.1,386.5 L2064.0,386.9 L2067.0,387.4 L2070.0,387.8 L2072.9,388.3 L2075.9,388.7 L2078.9,389.1 L2081.9,389.5 L2084.9,389.9 L2087.9,390.3 L2090.8,390.7 L2093.8,391.1 L2096.8,391.5 L2099.8,391.8 L2102.8,392.2 L2105.8,392.6 L2108.8,393.0 L2111.7,393.3 L2114.7,393.7 L2117.7,394.1 L2120.7,394.4 L2123.7,394.8 L2126.7,395.1 L2129.7,395.5 L2132.7,395.8 L2135.6,396.2 L2138.6,396.5 L2141.6,396.9 L2144.6,397.2 L2147.6,397.6 L2150.6,397.9 L2153.6,398.3 L2156.6,398.6 L2159.6,399.0 L2162.6,399.3 L2165.5,399.7 L2168.5,400.0 L2171.5,400.4 L2174.5,400.7 L2177.5,401.1 L2180.5,401.5 L2183.5,401.8 L2186.5,402.2 L2189.4,402.6 L2192.4,402.9 L2195.4,403.3 L2198.4,403.7 L2201.4,404.1 L2204.4,404.5 L2207.3,405.0 L2210.3,405.4 L2213.3,405.8 L2216.3,406.2 L2219.2,406.7 L2222.2,407.1 L2225.2,407.6 L2233.2,408.8"/></g>
<g stroke="#0f0"><path id="c-green" class="crisp" stroke-width="11.7" d="M346.0,128.4 L354.0,128.3 L602.7,125.5 L609.2,125.6 L616.5,125.6 L623.0,125.3 L630.3,125.1 L638.3,125.3 L647.0,125.2 L653.5,125.0 L658.6,124.8 L665.9,125.0 L673.2,124.8 L680.4,124.9 L686.2,124.9 L693.5,124.2 L700.8,124.6 L708.0,124.1 L716.8,124.2 L725.5,124.1 L734.2,124.0 L742.9,124.2 L747.3,124.2 L753.8,124.3 L760.4,124.0 L767.6,123.8 L776.4,124.1 L783.6,123.6 L789.4,123.9 L796.7,123.7 L801.8,123.8 L808.3,123.4 L815.6,123.3 L820.0,123.4 L826.5,123.2 L833.0,123.5 L838.9,123.2 L846.1,123.4 L859.2,123.2 L866.5,123.3 L873.7,123.4 L881.0,123.1 L888.3,123.2 L894.1,123.3 L901.4,123.2 L902.2,123.2 L909.5,123.2 L915.3,123.0 L921.1,123.1 L926.9,123.2 L934.2,123.0 L941.5,123.1 L948.7,122.9 L956.0,122.7 L960.4,122.9 L967.6,122.9 L973.4,122.9 L980.7,122.7 L986.5,122.9 L995.2,123.1 L1002.5,123.0 L1010.5,122.7 L1018.5,122.8 L1025.8,122.8 L1033.0,122.9 L1041.8,122.8 L1049.0,122.9 L1056.3,122.6 L1063.6,122.8 L1073.7,122.9 L1081.0,122.8 L1089.7,123.0 L1097.7,122.8 L1104.3,122.9 L1110.8,123.1 L1116.6,122.9 L1123.2,123.2 L1127.5,123.0 L1133.3,123.1 L1142.0,123.1 L1149.3,123.2 L1158.0,123.4 L1166.0,123.0 L1171.8,123.3 L1181.3,123.1 L1187.1,123.3 L1194.4,123.2 L1203.1,123.4 L1211.8,123.7 L1217.7,123.5 L1227.0,123.3 L1234.8,123.6 L1243.4,123.8 L1249.6,123.6 L1258.2,124.1 L1266.7,123.7 L1272.2,123.8 L1278.4,124.3 L1287.7,124.0 L1294.0,124.3 L1301.8,124.3 L1309.5,124.5 L1314.2,124.3 L1322.0,124.8 L1328.2,124.6 L1334.5,124.8 L1339.1,124.7 L1346.9,125.0 L1356.3,125.0 L1370.3,125.0 L1378.1,125.4 L1385.9,125.4 L1392.9,126.0 L1399.9,125.8 L1412.3,125.9 L1420.1,126.1 L1424.8,126.1 L1432.6,126.4 L1441.9,126.4 L1451.3,126.9 L1457.5,127.1 L1463.7,126.9 L1471.5,127.6 L1482.4,127.9 L1488.6,128.4 L1494.9,129.0 L1501.1,129.2 L1513.5,130.3 L1521.3,130.4 L1530.7,130.9 L1538.2,131.5 L1541.3,131.5 L1544.3,131.6 L1547.3,131.8 L1550.3,131.9 L1553.4,132.1 L1556.4,132.2 L1559.4,132.4 L1562.4,132.6 L1565.4,132.8 L1568.4,132.9 L1571.4,133.1 L1574.4,133.3 L1577.4,133.5 L1580.4,133.7 L1583.4,134.0 L1586.4,134.2 L1589.4,134.4 L1592.4,134.6 L1595.4,134.8 L1598.4,135.1 L1601.4,135.3 L1604.4,135.6 L1607.4,135.9 L1610.4,136.1 L1613.4,136.4 L1616.4,136.7 L1619.4,137.1 L1622.4,137.4 L1625.4,137.7 L1628.4,138.0 L1631.4,138.4 L1634.4,138.7 L1637.4,139.1 L1640.4,139.4 L1643.4,139.7 L1646.3,140.1 L1649.3,140.4 L1652.3,140.8 L1655.3,141.1 L1658.3,141.5 L1661.3,141.8 L1664.3,142.2 L1667.3,142.6 L1670.3,143.0 L1673.3,143.3 L1676.3,143.7 L1679.2,144.1 L1682.2,144.5 L1685.2,144.9 L1688.2,145.3 L1691.2,145.7 L1694.2,146.1 L1697.1,146.6 L1700.1,147.0 L1703.1,147.4 L1706.1,147.9 L1709.0,148.4 L1712.0,148.8 L1715.0,149.3 L1718.0,149.8 L1720.9,150.3 L1723.9,150.8 L1726.9,151.4 L1729.8,151.9 L1732.8,152.4 L1735.8,153.0 L1738.7,153.5 L1741.7,154.1 L1744.6,154.6 L1747.6,155.2 L1750.6,155.8 L1753.5,156.4 L1756.5,156.9 L1759.4,157.5 L1762.4,158.1 L1765.3,158.7 L1768.3,159.3 L1771.2,160.0 L1774.2,160.6 L1777.1,161.2 L1780.0,161.9 L1783.0,162.6 L1785.9,163.3 L1788.8,164.0 L1791.8,164.7 L1794.7,165.4 L1797.6,166.1 L1800.5,166.8 L1803.5,167.6 L1806.4,168.3 L1809.3,169.1 L1812.2,169.9 L1815.1,170.7 L1818.0,171.5 L1820.9,172.3 L1823.8,173.1 L1826.7,174.0 L1829.6,174.8 L1832.5,175.7 L1835.3,176.6 L1838.2,177.5 L1841.1,178.4 L1844.0,179.3 L1846.9,180.1 L1849.7,181.0 L1852.6,181.9 L1855.5,182.7 L1858.4,183.6 L1861.3,184.5 L1864.2,185.3 L1867.0,186.2 L1869.9,187.1 L1872.8,187.9 L1875.7,188.8 L1878.6,189.6 L1881.5,190.4 L1884.4,191.3 L1887.3,192.1 L1890.2,192.9 L1893.1,193.8 L1896.0,194.6 L1898.9,195.4 L1901.8,196.2 L1904.7,197.0 L1907.6,197.8 L1910.5,198.5 L1913.4,199.3 L1916.4,200.0 L1919.3,200.7 L1922.2,201.4 L1925.1,202.1 L1928.1,202.8 L1931.0,203.5 L1934.0,204.1 L1936.9,204.8 L1939.8,205.4 L1942.8,206.0 L1945.8,206.6 L1948.7,207.1 L1951.7,207.7 L1954.6,208.2 L1957.6,208.7 L1960.6,209.1 L1963.6,209.6 L1966.5,210.1 L1969.5,210.5 L1972.5,210.9 L1975.5,211.3 L1978.5,211.7 L1981.5,212.0 L1984.5,212.3 L1987.5,212.6 L1990.5,212.9 L1993.5,213.2 L1996.5,213.4 L1999.5,213.7 L2002.5,213.9 L2005.5,214.2 L2008.5,214.4 L2011.5,214.6 L2014.5,214.8 L2017.5,215.0 L2020.5,215.2 L2023.5,215.4 L2026.5,215.6 L2029.5,215.7 L2032.5,215.9 L2035.5,216.0 L2038.5,216.2 L2041.6,216.3 L2044.6,216.4 L2047.6,216.5 L2050.6,216.6 L2053.6,216.8 L2056.6,216.9 L2059.6,217.0 L2062.6,217.1 L2065.6,217.1 L2068.6,217.2 L2071.7,217.3 L2074.7,217.4 L2077.7,217.5 L2080.7,217.6 L2083.7,217.7 L2086.7,217.8 L2089.7,217.9 L2092.7,217.9 L2095.7,218.0 L2098.7,218.1 L2101.8,218.2 L2104.8,218.3 L2107.8,218.3 L2110.8,218.4 L2113.8,218.5 L2116.8,218.6 L2119.8,218.7 L2122.8,218.7 L2125.8,218.8 L2128.9,218.9 L2131.9,219.0 L2134.9,219.0 L2137.9,219.1 L2140.9,219.2 L2143.9,219.3 L2146.9,219.3 L2149.9,219.4 L2152.9,219.5 L2156.0,219.5 L2159.0,219.6 L2162.0,219.7 L2165.0,219.8 L2168.0,219.8 L2171.0,219.9 L2174.0,220.0 L2177.0,220.0 L2180.0,220.1 L2183.1,220.2 L2186.1,220.3 L2189.1,220.3 L2192.1,220.4 L2195.1,220.5 L2198.1,220.6 L2201.1,220.7 L2204.1,220.7 L2207.1,220.8 L2210.1,220.9 L2213.2,221.0 L2216.2,221.1 L2219.2,221.1 L2222.2,221.2 L2225.2,221.3 L2233.2,221.5"/><path stroke-width="10.1" d="M346.0,128.4 L354.0,128.3 L602.7,125.5 L609.2,125.6 L616.5,125.6 L623.0,125.3 L630.3,125.1 L638.3,125.3 L647.0,125.2 L653.5,125.0 L658.6,124.8 L665.9,125.0 L673.2,124.8 L680.4,124.9 L686.2,124.9 L693.5,124.2 L700.8,124.6 L708.0,124.1 L716.8,124.2 L725.5,124.1 L734.2,124.0 L742.9,124.2 L747.3,124.2 L753.8,124.3 L760.4,124.0 L767.6,123.8 L776.4,124.1 L783.6,123.6 L789.4,123.9 L796.7,123.7 L801.8,123.8 L808.3,123.4 L815.6,123.3 L820.0,123.4 L826.5,123.2 L833.0,123.5 L838.9,123.2 L846.1,123.4 L859.2,123.2 L866.5,123.3 L873.7,123.4 L881.0,123.1 L888.3,123.2 L894.1,123.3 L901.4,123.2 L902.2,123.2 L909.5,123.2 L915.3,123.0 L921.1,123.1 L926.9,123.2 L934.2,123.0 L941.5,123.1 L948.7,122.9 L956.0,122.7 L960.4,122.9 L967.6,122.9 L973.4,122.9 L980.7,122.7 L986.5,122.9 L995.2,123.1 L1002.5,123.0 L1010.5,122.7 L1018.5,122.8 L1025.8,122.8 L1033.0,122.9 L1041.8,122.8 L1049.0,122.9 L1056.3,122.6 L1063.6,122.8 L1073.7,122.9 L1081.0,122.8 L1089.7,123.0 L1097.7,122.8 L1104.3,122.9 L1110.8,123.1 L1116.6,122.9 L1123.2,123.2 L1127.5,123.0 L1133.3,123.1 L1142.0,123.1 L1149.3,123.2 L1158.0,123.4 L1166.0,123.0 L1171.8,123.3 L1181.3,123.1 L1187.1,123.3 L1194.4,123.2 L1203.1,123.4 L1211.8,123.7 L1217.7,123.5 L1227.0,123.3 L1234.8,123.6 L1243.4,123.8 L1249.6,123.6 L1258.2,124.1 L1266.7,123.7 L1272.2,123.8 L1278.4,124.3 L1287.7,124.0 L1294.0,124.3 L1301.8,124.3 L1309.5,124.5 L1314.2,124.3 L1322.0,124.8 L1328.2,124.6 L1334.5,124.8 L1339.1,124.7 L1346.9,125.0 L1356.3,125.0 L1370.3,125.0 L1378.1,125.4 L1385.9,125.4 L1392.9,126.0 L1399.9,125.8 L1412.3,125.9 L1420.1,126.1 L1424.8,126.1 L1432.6,126.4 L1441.9,126.4 L1451.3,126.9 L1457.5,127.1 L1463.7,126.9 L1471.5,127.6 L1482.4,127.9 L1488.6,128.4 L1494.9,129.0 L1501.1,129.2 L1513.5,130.3 L1521.3,130.4 L1530.7,130.9 L1538.2,131.5 L1541.3,131.5 L1544.3,131.6 L1547.3,131.8 L1550.3,131.9 L1553.4,132.1 L1556.4,132.2 L1559.4,132.4 L1562.4,132.6 L1565.4,132.8 L1568.4,132.9 L1571.4,133.1 L1574.4,133.3 L1577.4,133.5 L1580.4,133.7 L1583.4,134.0 L1586.4,134.2 L1589.4,134.4 L1592.4,134.6 L1595.4,134.8 L1598.4,135.1 L1601.4,135.3 L1604.4,135.6 L1607.4,135.9 L1610.4,136.1 L1613.4,136.4 L1616.4,136.7 L1619.4,137.1 L1622.4,137.4 L1625.4,137.7 L1628.4,138.0 L1631.4,138.4 L1634.4,138.7 L1637.4,139.1 L1640.4,139.4 L1643.4,139.7 L1646.3,140.1 L1649.3,140.4 L1652.3,140.8 L1655.3,141.1 L1658.3,141.5 L1661.3,141.8 L1664.3,142.2 L1667.3,142.6 L1670.3,143.0 L1673.3,143.3 L1676.3,143.7 L1679.2,144.1 L1682.2,144.5 L1685.2,144.9 L1688.2,145.3 L1691.2,145.7 L1694.2,146.1 L1697.1,146.6 L1700.1,147.0 L1703.1,147.4 L1706.1,147.9 L1709.0,148.4 L1712.0,148.8 L1715.0,149.3 L1718.0,149.8 L1720.9,150.3 L1723.9,150.8 L1726.9,151.4 L1729.8,151.9 L1732.8,152.4 L1735.8,153.0 L1738.7,153.5 L1741.7,154.1 L1744.6,154.6 L1747.6,155.2 L1750.6,155.8 L1753.5,156.4 L1756.5,156.9 L1759.4,157.5 L1762.4,158.1 L1765.3,158.7 L1768.3,159.3 L1771.2,160.0 L1774.2,160.6 L1777.1,161.2 L1780.0,161.9 L1783.0,162.6 L1785.9,163.3 L1788.8,164.0 L1791.8,164.7 L1794.7,165.4 L1797.6,166.1 L1800.5,166.8 L1803.5,167.6 L1806.4,168.3 L1809.3,169.1 L1812.2,169.9 L1815.1,170.7 L1818.0,171.5 L1820.9,172.3 L1823.8,173.1 L1826.7,174.0 L1829.6,174.8 L1832.5,175.7 L1835.3,176.6 L1838.2,177.5 L1841.1,178.4 L1844.0,179.3 L1846.9,180.1 L1849.7,181.0 L1852.6,181.9 L1855.5,182.7 L1858.4,183.6 L1861.3,184.5 L1864.2,185.3 L1867.0,186.2 L1869.9,187.1 L1872.8,187.9 L1875.7,188.8 L1878.6,189.6 L1881.5,190.4 L1884.4,191.3 L1887.3,192.1 L1890.2,192.9 L1893.1,193.8 L1896.0,194.6 L1898.9,195.4 L1901.8,196.2 L1904.7,197.0 L1907.6,197.8 L1910.5,198.5 L1913.4,199.3 L1916.4,200.0 L1919.3,200.7 L1922.2,201.4 L1925.1,202.1 L1928.1,202.8 L1931.0,203.5 L1934.0,204.1 L1936.9,204.8 L1939.8,205.4 L1942.8,206.0 L1945.8,206.6 L1948.7,207.1 L1951.7,207.7 L1954.6,208.2 L1957.6,208.7 L1960.6,209.1 L1963.6,209.6 L1966.5,210.1 L1969.5,210.5 L1972.5,210.9 L1975.5,211.3 L1978.5,211.7 L1981.5,212.0 L1984.5,212.3 L1987.5,212.6 L1990.5,212.9 L1993.5,213.2 L1996.5,213.4 L1999.5,213.7 L2002.5,213.9 L2005.5,214.2 L2008.5,214.4 L2011.5,214.6 L2014.5,214.8 L2017.5,215.0 L2020.5,215.2 L2023.5,215.4 L2026.5,215.6 L2029.5,215.7 L2032.5,215.9 L2035.5,216.0 L2038.5,216.2 L2041.6,216.3 L2044.6,216.4 L2047.6,216.5 L2050.6,216.6 L2053.6,216.8 L2056.6,216.9 L2059.6,217.0 L2062.6,217.1 L2065.6,217.1 L2068.6,217.2 L2071.7,217.3 L2074.7,217.4 L2077.7,217.5 L2080.7,217.6 L2083.7,217.7 L2086.7,217.8 L2089.7,217.9 L2092.7,217.9 L2095.7,218.0 L2098.7,218.1 L2101.8,218.2 L2104.8,218.3 L2107.8,218.3 L2110.8,218.4 L2113.8,218.5 L2116.8,218.6 L2119.8,218.7 L2122.8,218.7 L2125.8,218.8 L2128.9,218.9 L2131.9,219.0 L2134.9,219.0 L2137.9,219.1 L2140.9,219.2 L2143.9,219.3 L2146.9,219.3 L2149.9,219.4 L2152.9,219.5 L2156.0,219.5 L2159.0,219.6 L2162.0,219.7 L2165.0,219.8 L2168.0,219.8 L2171.0,219.9 L2174.0,220.0 L2177.0,220.0 L2180.0,220.1 L2183.1,220.2 L2186.1,220.3 L2189.1,220.3 L2192.1,220.4 L2195.1,220.5 L2198.1,220.6 L2201.1,220.7 L2204.1,220.7 L2207.1,220.8 L2210.1,220.9 L2213.2,221.0 L2216.2,221.1 L2219.2,221.1 L2222.2,221.2 L2225.2,221.3 L2233.2,221.5"/></g>
<g stroke="#00f"><path id="c-blue" class="crisp" stroke-width="11.7" d="M346.0,125.7 L354.0,125.2 L477.4,118.6 L602.7,111.0 L610.7,110.7 L616.5,110.6 L623.0,110.0 L631.0,109.6 L640.5,108.9 L648.5,109.2 L657.2,108.9 L665.9,108.3 L674.6,108.2 L679.0,108.0 L686.2,107.4 L696.4,107.4 L706.6,106.8 L719.7,106.7 L724.0,106.5 L731.3,105.8 L739.3,105.7 L745.8,105.4 L753.1,105.5 L757.5,105.4 L764.7,104.8 L768.4,104.7 L772.7,105.1 L777.8,105.0 L782.2,104.5 L789.4,104.4 L794.5,104.5 L798.9,104.0 L802.5,103.8 L809.1,104.1 L818.5,103.8 L834.5,103.7 L843.2,103.3 L850.5,103.1 L857.8,103.2 L865.0,103.2 L872.3,102.9 L876.6,102.9 L882.5,102.6 L895.5,102.5 L901.4,102.7 L902.2,102.7 L910.9,102.4 L918.2,102.3 L924.0,102.3 L927.7,102.5 L932.7,102.3 L940.7,102.0 L947.3,102.2 L955.3,101.8 L960.4,101.9 L966.2,101.6 L971.3,101.6 L979.3,101.7 L985.8,102.2 L990.9,101.9 L998.2,101.8 L1005.4,101.5 L1014.1,101.4 L1018.5,101.4 L1022.9,101.8 L1030.1,101.8 L1034.5,101.9 L1040.3,101.6 L1045.4,101.7 L1051.2,101.4 L1062.1,101.5 L1067.9,101.7 L1075.2,101.6 L1081.0,101.9 L1094.1,101.9 L1101.3,101.8 L1110.1,102.1 L1120.2,101.8 L1127.5,102.1 L1134.8,102.0 L1139.1,101.9 L1147.9,102.0 L1153.7,102.3 L1162.4,102.5 L1169.7,102.2 L1176.9,102.3 L1181.3,102.6 L1188.6,102.5 L1192.9,102.7 L1195.8,103.1 L1200.9,102.8 L1206.7,103.2 L1213.3,102.6 L1215.3,102.7 L1220.8,103.2 L1227.0,103.3 L1231.7,103.3 L1237.9,103.7 L1243.4,103.7 L1248.0,103.0 L1252.7,103.0 L1258.2,103.7 L1262.8,103.8 L1269.1,103.7 L1276.8,104.3 L1282.3,104.2 L1287.7,104.3 L1294.8,104.1 L1301.0,104.1 L1308.0,104.6 L1315.8,104.6 L1322.8,105.0 L1331.3,105.1 L1335.2,105.3 L1340.7,105.3 L1350.0,105.5 L1354.7,105.5 L1358.6,105.7 L1364.8,105.4 L1371.1,105.7 L1375.7,105.6 L1381.2,105.7 L1385.9,105.7 L1391.3,106.1 L1396.0,105.8 L1403.0,106.1 L1410.8,106.2 L1421.7,106.8 L1427.9,106.6 L1434.9,107.2 L1441.1,107.0 L1445.0,107.5 L1449.7,107.4 L1457.5,108.1 L1477.7,108.1 L1484.0,108.7 L1496.4,108.7 L1500.3,109.1 L1508.9,109.1 L1516.7,109.8 L1524.4,109.9 L1531.5,110.3 L1538.2,110.3 L1541.3,110.5 L1544.3,110.6 L1547.3,110.8 L1550.3,110.9 L1553.3,111.1 L1556.3,111.2 L1559.3,111.4 L1562.3,111.5 L1565.3,111.7 L1568.3,111.8 L1571.3,112.0 L1574.3,112.1 L1577.3,112.2 L1580.3,112.4 L1583.3,112.5 L1586.3,112.7 L1589.3,112.8 L1592.3,112.9 L1595.3,113.1 L1598.3,113.2 L1601.3,113.4 L1604.3,113.5 L1607.3,113.6 L1610.3,113.7 L1613.3,113.9 L1616.3,114.0 L1619.3,114.1 L1622.3,114.2 L1625.3,114.4 L1628.3,114.5 L1631.3,114.6 L1634.3,114.7 L1637.3,114.8 L1640.3,114.9 L1643.3,115.0 L1646.3,115.2 L1649.3,115.3 L1652.3,115.4 L1655.3,115.5 L1658.3,115.6 L1661.3,115.7 L1664.3,115.9 L1667.3,116.0 L1670.3,116.1 L1673.3,116.2 L1676.3,116.3 L1679.3,116.5 L1682.3,116.6 L1685.3,116.7 L1688.3,116.9 L1691.3,117.0 L1694.3,117.1 L1697.3,117.2 L1700.3,117.4 L1703.3,117.5 L1706.3,117.7 L1709.3,117.8 L1712.3,117.9 L1715.3,118.1 L1718.3,118.2 L1721.3,118.3 L1724.3,118.5 L1727.3,118.6 L1730.3,118.8 L1733.3,118.9 L1736.3,119.1 L1739.3,119.2 L1742.3,119.3 L1745.3,119.5 L1748.3,119.6 L1751.3,119.8 L1754.3,119.9 L1757.3,120.0 L1760.3,120.2 L1763.3,120.3 L1766.3,120.5 L1769.3,120.6 L1772.3,120.7 L1775.3,120.9 L1778.3,121.0 L1781.3,121.1 L1784.3,121.3 L1787.3,121.4 L1790.3,121.6 L1793.3,121.7 L1796.3,121.8 L1799.3,122.0 L1802.3,122.1 L1805.3,122.2 L1808.3,122.4 L1811.3,122.5 L1814.3,122.6 L1817.3,122.8 L1820.3,122.9 L1823.3,123.1 L1826.3,123.2 L1829.3,123.3 L1832.3,123.5 L1835.3,123.6 L1838.3,123.8 L1841.3,123.9 L1844.3,124.0 L1847.3,124.2 L1850.3,124.3 L1853.3,124.5 L1856.3,124.6 L1859.3,124.8 L1862.3,124.9 L1865.3,125.1 L1868.3,125.2 L1871.3,125.4 L1874.3,125.5 L1877.3,125.7 L1880.3,125.8 L1883.3,125.9 L1886.3,126.1 L1889.3,126.2 L1892.3,126.3 L1895.3,126.4 L1898.3,126.5 L1901.3,126.6 L1904.3,126.7 L1907.3,126.8 L1910.3,126.9 L1913.3,127.0 L1916.3,127.1 L1919.3,127.2 L1922.3,127.3 L1925.3,127.4 L1928.3,127.5 L1931.3,127.6 L1934.3,127.7 L1937.3,127.8 L1940.3,127.9 L1943.3,128.0 L1946.3,128.1 L1949.3,128.2 L1952.3,128.3 L1955.3,128.4 L1958.3,128.5 L1961.3,128.6 L1964.3,128.7 L1967.3,128.8 L1970.3,128.9 L1973.3,129.0 L1976.3,129.1 L1979.3,129.3 L1982.3,129.4 L1985.3,129.5 L1988.3,129.7 L1991.3,129.8 L1994.3,129.9 L1997.3,130.1 L2000.3,130.2 L2003.3,130.4 L2006.3,130.6 L2009.3,130.7 L2012.3,130.9 L2015.3,131.1 L2018.3,131.3 L2021.3,131.4 L2024.3,131.6 L2027.3,131.8 L2030.3,132.0 L2033.3,132.2 L2036.3,132.3 L2039.3,132.5 L2042.3,132.7 L2045.3,132.9 L2048.3,133.1 L2051.3,133.3 L2054.3,133.5 L2057.3,133.7 L2060.3,133.9 L2063.3,134.0 L2066.2,134.2 L2069.2,134.4 L2072.2,134.6 L2075.2,134.8 L2078.2,135.0 L2081.2,135.1 L2084.2,135.3 L2087.2,135.5 L2090.2,135.7 L2093.2,135.8 L2096.2,136.0 L2099.2,136.2 L2102.2,136.3 L2105.2,136.5 L2108.2,136.6 L2111.2,136.8 L2114.2,136.9 L2117.2,137.1 L2120.2,137.2 L2123.2,137.4 L2126.2,137.6 L2129.2,137.7 L2132.2,137.9 L2135.2,138.0 L2138.2,138.2 L2141.2,138.3 L2144.2,138.5 L2147.2,138.6 L2150.2,138.8 L2153.2,138.9 L2156.2,139.0 L2159.2,139.2 L2162.2,139.3 L2165.2,139.5 L2168.2,139.6 L2171.2,139.8 L2174.2,139.9 L2177.2,140.0 L2180.2,140.2 L2183.2,140.3 L2186.2,140.5 L2189.2,140.6 L2192.2,140.7 L2195.2,140.9 L2198.2,141.0 L2201.2,141.1 L2204.2,141.3 L2207.2,141.4 L2210.2,141.5 L2213.2,141.7 L2216.2,141.8 L2219.2,141.9 L2222.2,142.1 L2225.2,142.2 L2233.2,142.5"/><path stroke-width="10.1" d="M346.0,125.7 L354.0,125.2 L477.4,118.6 L602.7,111.0 L610.7,110.7 L616.5,110.6 L623.0,110.0 L631.0,109.6 L640.5,108.9 L648.5,109.2 L657.2,108.9 L665.9,108.3 L674.6,108.2 L679.0,108.0 L686.2,107.4 L696.4,107.4 L706.6,106.8 L719.7,106.7 L724.0,106.5 L731.3,105.8 L739.3,105.7 L745.8,105.4 L753.1,105.5 L757.5,105.4 L764.7,104.8 L768.4,104.7 L772.7,105.1 L777.8,105.0 L782.2,104.5 L789.4,104.4 L794.5,104.5 L798.9,104.0 L802.5,103.8 L809.1,104.1 L818.5,103.8 L834.5,103.7 L843.2,103.3 L850.5,103.1 L857.8,103.2 L865.0,103.2 L872.3,102.9 L876.6,102.9 L882.5,102.6 L895.5,102.5 L901.4,102.7 L902.2,102.7 L910.9,102.4 L918.2,102.3 L924.0,102.3 L927.7,102.5 L932.7,102.3 L940.7,102.0 L947.3,102.2 L955.3,101.8 L960.4,101.9 L966.2,101.6 L971.3,101.6 L979.3,101.7 L985.8,102.2 L990.9,101.9 L998.2,101.8 L1005.4,101.5 L1014.1,101.4 L1018.5,101.4 L1022.9,101.8 L1030.1,101.8 L1034.5,101.9 L1040.3,101.6 L1045.4,101.7 L1051.2,101.4 L1062.1,101.5 L1067.9,101.7 L1075.2,101.6 L1081.0,101.9 L1094.1,101.9 L1101.3,101.8 L1110.1,102.1 L1120.2,101.8 L1127.5,102.1 L1134.8,102.0 L1139.1,101.9 L1147.9,102.0 L1153.7,102.3 L1162.4,102.5 L1169.7,102.2 L1176.9,102.3 L1181.3,102.6 L1188.6,102.5 L1192.9,102.7 L1195.8,103.1 L1200.9,102.8 L1206.7,103.2 L1213.3,102.6 L1215.3,102.7 L1220.8,103.2 L1227.0,103.3 L1231.7,103.3 L1237.9,103.7 L1243.4,103.7 L1248.0,103.0 L1252.7,103.0 L1258.2,103.7 L1262.8,103.8 L1269.1,103.7 L1276.8,104.3 L1282.3,104.2 L1287.7,104.3 L1294.8,104.1 L1301.0,104.1 L1308.0,104.6 L1315.8,104.6 L1322.8,105.0 L1331.3,105.1 L1335.2,105.3 L1340.7,105.3 L1350.0,105.5 L1354.7,105.5 L1358.6,105.7 L1364.8,105.4 L1371.1,105.7 L1375.7,105.6 L1381.2,105.7 L1385.9,105.7 L1391.3,106.1 L1396.0,105.8 L1403.0,106.1 L1410.8,106.2 L1421.7,106.8 L1427.9,106.6 L1434.9,107.2 L1441.1,107.0 L1445.0,107.5 L1449.7,107.4 L1457.5,108.1 L1477.7,108.1 L1484.0,108.7 L1496.4,108.7 L1500.3,109.1 L1508.9,109.1 L1516.7,109.8 L1524.4,109.9 L1531.5,110.3 L1538.2,110.3 L1541.3,110.5 L1544.3,110.6 L1547.3,110.8 L1550.3,110.9 L1553.3,111.1 L1556.3,111.2 L1559.3,111.4 L1562.3,111.5 L1565.3,111.7 L1568.3,111.8 L1571.3,112.0 L1574.3,112.1 L1577.3,112.2 L1580.3,112.4 L1583.3,112.5 L1586.3,112.7 L1589.3,112.8 L1592.3,112.9 L1595.3,113.1 L1598.3,113.2 L1601.3,113.4 L1604.3,113.5 L1607.3,113.6 L1610.3,113.7 L1613.3,113.9 L1616.3,114.0 L1619.3,114.1 L1622.3,114.2 L1625.3,114.4 L1628.3,114.5 L1631.3,114.6 L1634.3,114.7 L1637.3,114.8 L1640.3,114.9 L1643.3,115.0 L1646.3,115.2 L1649.3,115.3 L1652.3,115.4 L1655.3,115.5 L1658.3,115.6 L1661.3,115.7 L1664.3,115.9 L1667.3,116.0 L1670.3,116.1 L1673.3,116.2 L1676.3,116.3 L1679.3,116.5 L1682.3,116.6 L1685.3,116.7 L1688.3,116.9 L1691.3,117.0 L1694.3,117.1 L1697.3,117.2 L1700.3,117.4 L1703.3,117.5 L1706.3,117.7 L1709.3,117.8 L1712.3,117.9 L1715.3,118.1 L1718.3,118.2 L1721.3,118.3 L1724.3,118.5 L1727.3,118.6 L1730.3,118.8 L1733.3,118.9 L1736.3,119.1 L1739.3,119.2 L1742.3,119.3 L1745.3,119.5 L1748.3,119.6 L1751.3,119.8 L1754.3,119.9 L1757.3,120.0 L1760.3,120.2 L1763.3,120.3 L1766.3,120.5 L1769.3,120.6 L1772.3,120.7 L1775.3,120.9 L1778.3,121.0 L1781.3,121.1 L1784.3,121.3 L1787.3,121.4 L1790.3,121.6 L1793.3,121.7 L1796.3,121.8 L1799.3,122.0 L1802.3,122.1 L1805.3,122.2 L1808.3,122.4 L1811.3,122.5 L1814.3,122.6 L1817.3,122.8 L1820.3,122.9 L1823.3,123.1 L1826.3,123.2 L1829.3,123.3 L1832.3,123.5 L1835.3,123.6 L1838.3,123.8 L1841.3,123.9 L1844.3,124.0 L1847.3,124.2 L1850.3,124.3 L1853.3,124.5 L1856.3,124.6 L1859.3,124.8 L1862.3,124.9 L1865.3,125.1 L1868.3,125.2 L1871.3,125.4 L1874.3,125.5 L1877.3,125.7 L1880.3,125.8 L1883.3,125.9 L1886.3,126.1 L1889.3,126.2 L1892.3,126.3 L1895.3,126.4 L1898.3,126.5 L1901.3,126.6 L1904.3,126.7 L1907.3,126.8 L1910.3,126.9 L1913.3,127.0 L1916.3,127.1 L1919.3,127.2 L1922.3,127.3 L1925.3,127.4 L1928.3,127.5 L1931.3,127.6 L1934.3,127.7 L1937.3,127.8 L1940.3,127.9 L1943.3,128.0 L1946.3,128.1 L1949.3,128.2 L1952.3,128.3 L1955.3,128.4 L1958.3,128.5 L1961.3,128.6 L1964.3,128.7 L1967.3,128.8 L1970.3,128.9 L1973.3,129.0 L1976.3,129.1 L1979.3,129.3 L1982.3,129.4 L1985.3,129.5 L1988.3,129.7 L1991.3,129.8 L1994.3,129.9 L1997.3,130.1 L2000.3,130.2 L2003.3,130.4 L2006.3,130.6 L2009.3,130.7 L2012.3,130.9 L2015.3,131.1 L2018.3,131.3 L2021.3,131.4 L2024.3,131.6 L2027.3,131.8 L2030.3,132.0 L2033.3,132.2 L2036.3,132.3 L2039.3,132.5 L2042.3,132.7 L2045.3,132.9 L2048.3,133.1 L2051.3,133.3 L2054.3,133.5 L2057.3,133.7 L2060.3,133.9 L2063.3,134.0 L2066.2,134.2 L2069.2,134.4 L2072.2,134.6 L2075.2,134.8 L2078.2,135.0 L2081.2,135.1 L2084.2,135.3 L2087.2,135.5 L2090.2,135.7 L2093.2,135.8 L2096.2,136.0 L2099.2,136.2 L2102.2,136.3 L2105.2,136.5 L2108.2,136.6 L2111.2,136.8 L2114.2,136.9 L2117.2,137.1 L2120.2,137.2 L2123.2,137.4 L2126.2,137.6 L2129.2,137.7 L2132.2,137.9 L2135.2,138.0 L2138.2,138.2 L2141.2,138.3 L2144.2,138.5 L2147.2,138.6 L2150.2,138.8 L2153.2,138.9 L2156.2,139.0 L2159.2,139.2 L2162.2,139.3 L2165.2,139.5 L2168.2,139.6 L2171.2,139.8 L2174.2,139.9 L2177.2,140.0 L2180.2,140.2 L2183.2,140.3 L2186.2,140.5 L2189.2,140.6 L2192.2,140.7 L2195.2,140.9 L2198.2,141.0 L2201.2,141.1 L2204.2,141.3 L2207.2,141.4 L2210.2,141.5 L2213.2,141.7 L2216.2,141.8 L2219.2,141.9 L2222.2,142.1 L2225.2,142.2 L2233.2,142.5"/></g>
<g stroke="#000"><path id="c-black" class="crisp" stroke-width="11.7" d="M346.0,129.8 L354.0,129.8 L602.7,130.6 L612.1,130.5 L619.4,130.7 L632.5,130.6 L639.7,130.5 L651.4,130.5 L661.5,130.4 L668.8,130.0 L677.5,129.6 L686.2,129.5 L695.0,129.3 L700.8,129.1 L709.5,129.1 L719.7,128.8 L731.3,128.7 L741.5,128.5 L748.7,128.4 L756.0,128.4 L763.3,128.5 L770.5,128.6 L777.8,128.6 L783.6,128.8 L790.9,128.6 L799.6,128.5 L806.9,128.4 L817.1,128.4 L825.8,128.6 L835.9,128.6 L850.5,128.8 L862.1,128.7 L875.2,128.6 L882.5,128.5 L889.7,128.7 L895.5,129.1 L902.2,129.2 L910.9,129.5 L924.0,129.6 L931.3,129.8 L942.9,129.8 L953.1,129.7 L967.6,129.6 L974.9,129.5 L980.7,129.1 L986.5,128.8 L995.2,128.6 L1006.9,128.6 L1014.1,128.6 L1022.9,128.6 L1030.1,128.7 L1040.3,128.6 L1047.6,128.5 L1056.3,128.4 L1062.1,128.6 L1070.8,128.9 L1081.0,129.5 L1088.3,130.0 L1098.4,130.2 L1110.1,130.5 L1120.2,130.7 L1131.9,130.9 L1140.6,131.0 L1149.3,131.2 L1158.0,131.1 L1165.3,130.8 L1175.5,130.6 L1187.1,130.7 L1200.2,130.6 L1207.5,130.7 L1208.3,130.7 L1219.2,130.6 L1227.0,131.1 L1239.5,131.2 L1248.8,131.5 L1255.0,131.9 L1265.9,131.9 L1278.4,132.1 L1294.0,132.3 L1314.2,132.4 L1322.0,132.8 L1337.6,133.0 L1343.8,133.2 L1357.8,133.2 L1379.6,133.3 L1387.4,133.9 L1395.2,134.1 L1413.9,134.1 L1421.7,134.7 L1432.6,134.9 L1441.9,135.5 L1449.7,135.7 L1457.5,136.2 L1465.3,136.8 L1469.9,137.5 L1485.5,137.6 L1487.1,138.6 L1493.3,139.2 L1502.6,139.6 L1512.0,140.3 L1522.9,140.7 L1529.1,141.4 L1538.2,141.8 L1540.3,141.7 L1542.3,141.7 L1544.3,141.8 L1546.3,141.9 L1548.3,142.0 L1550.3,142.1 L1552.3,142.2 L1554.3,142.3 L1556.3,142.8 L1558.3,143.0 L1560.3,143.2 L1562.3,143.4 L1564.3,143.4 L1566.3,143.6 L1568.3,143.8 L1570.3,144.0 L1572.3,144.2 L1574.3,144.5 L1576.3,143.1 L1578.3,143.2 L1580.2,143.4 L1582.2,143.6 L1584.2,143.8 L1586.2,144.1 L1588.2,144.3 L1590.1,144.7 L1592.1,145.0 L1594.1,145.3 L1596.1,145.7 L1598.1,146.0 L1600.0,146.5 L1602.0,146.8 L1604.0,147.2 L1606.0,147.5 L1607.9,149.4 L1609.9,149.8 L1611.9,150.2 L1613.8,150.6 L1615.8,151.0 L1617.7,151.5 L1619.7,151.9 L1621.6,152.5 L1623.5,151.7 L1625.5,152.2 L1627.4,152.8 L1629.3,153.4 L1631.2,154.0 L1633.2,156.8 L1635.1,157.4 L1637.0,157.9 L1638.9,158.5 L1640.9,159.0 L1642.8,159.5 L1644.7,160.0 L1646.7,160.5 L1648.6,161.0 L1650.6,161.2 L1652.6,161.5 L1654.5,161.9 L1656.5,162.2 L1658.5,162.5 L1660.5,162.7 L1662.5,164.8 L1664.5,165.1 L1666.5,165.4 L1668.4,165.7 L1670.4,165.5 L1672.4,165.9 L1674.3,166.3 L1676.3,166.7 L1678.3,167.1 L1680.2,164.5 L1682.2,165.0 L1684.1,165.5 L1686.0,166.0 L1688.0,166.5 L1689.9,167.8 L1691.8,168.3 L1693.8,168.8 L1695.7,169.4 L1697.6,170.0 L1699.5,170.6 L1701.4,171.2 L1703.3,171.8 L1705.2,171.9 L1707.1,172.6 L1709.0,173.2 L1710.9,173.9 L1712.8,174.6 L1714.7,175.3 L1716.6,176.0 L1718.4,178.7 L1720.3,179.5 L1722.1,180.3 L1724.0,181.1 L1725.8,181.9 L1727.7,182.6 L1729.5,183.0 L1731.4,183.6 L1733.3,184.2 L1735.2,184.8 L1737.2,183.1 L1739.1,183.6 L1741.1,184.1 L1743.0,184.5 L1745.0,185.0 L1746.9,188.2 L1748.9,188.7 L1750.8,189.2 L1752.8,189.7 L1754.7,190.2 L1756.7,190.7 L1758.6,189.6 L1760.5,190.2 L1762.5,190.8 L1764.4,191.4 L1766.2,192.0 L1768.1,192.7 L1769.9,193.5 L1771.8,195.0 L1773.6,195.8 L1775.4,196.7 L1777.2,197.6 L1779.0,198.4 L1780.8,199.3 L1782.6,201.7 L1784.4,202.6 L1786.2,203.5 L1788.0,204.4 L1789.8,205.3 L1791.6,206.2 L1793.4,207.0 L1795.3,207.8 L1797.2,206.1 L1799.0,206.8 L1800.9,207.6 L1802.8,208.3 L1804.7,209.1 L1806.5,209.9 L1808.2,210.8 L1809.9,213.0 L1811.6,214.1 L1813.2,215.4 L1814.7,216.6 L1816.3,217.9 L1817.9,219.1 L1819.5,220.3 L1821.2,221.4 L1822.9,222.5 L1824.6,223.5 L1826.3,225.4 L1828.1,226.5 L1829.8,227.5 L1831.5,228.5 L1833.2,229.5 L1835.0,230.6 L1836.7,232.7 L1838.4,233.8 L1840.1,234.9 L1841.8,235.9 L1843.5,237.0 L1845.2,235.5 L1846.9,236.5 L1848.7,237.6 L1850.4,238.5 L1852.2,239.5 L1853.9,240.4 L1855.7,241.3 L1857.5,242.2 L1859.3,241.9 L1861.1,242.8 L1862.9,243.7 L1864.7,244.7 L1866.4,245.7 L1868.2,246.7 L1869.9,247.7 L1871.6,248.3 L1873.2,249.4 L1874.9,250.5 L1876.6,251.5 L1878.4,252.6 L1880.1,253.5 L1881.9,254.4 L1883.8,255.2 L1885.7,259.2 L1887.6,260.0 L1889.4,260.9 L1891.0,261.9 L1892.5,263.1 L1893.9,264.4 L1895.2,266.0 L1896.5,267.6 L1897.7,269.2 L1899.0,271.3 L1900.4,272.8 L1901.7,274.2 L1903.1,275.7 L1904.5,277.1 L1906.0,278.5 L1907.4,279.9 L1908.9,280.5 L1910.4,281.9 L1911.9,283.2 L1913.5,284.5 L1915.1,285.7 L1916.7,286.6 L1918.5,287.5 L1920.3,288.2 L1922.2,288.4 L1924.1,289.0 L1926.0,289.6 L1928.0,290.2 L1930.0,290.8 L1931.9,291.4 L1933.8,293.2 L1935.7,293.9 L1937.5,294.7 L1939.4,295.5 L1941.2,296.4 L1943.0,297.3 L1944.8,298.2 L1946.6,299.1 L1948.4,300.0 L1950.2,299.2 L1952.1,299.9 L1954.0,300.5 L1955.9,301.1 L1957.8,301.6 L1959.8,302.1 L1961.7,302.6 L1963.7,301.3 L1965.6,301.8 L1967.5,302.4 L1969.4,303.0 L1971.3,303.8 L1973.1,304.6 L1974.9,305.5 L1976.7,306.3 L1978.6,309.8 L1980.4,310.7 L1982.2,311.5 L1984.1,312.2 L1986.0,312.8 L1987.9,313.4 L1989.8,313.9 L1991.7,314.3 L1993.7,314.7 L1995.7,315.8 L1997.6,316.2 L1999.6,316.5 L2001.6,316.9 L2003.5,317.3 L2005.4,316.6 L2007.4,317.1 L2009.3,317.7 L2011.3,318.2 L2013.2,318.7 L2015.2,319.2 L2017.1,319.6 L2019.1,319.6 L2021.1,320.0 L2023.0,320.5 L2025.0,320.9 L2027.0,321.3 L2029.0,321.7 L2031.0,322.0 L2033.0,322.2 L2035.0,322.4 L2037.0,322.6 L2039.0,322.7 L2041.0,322.9 L2043.0,323.0 L2045.0,323.1 L2047.0,323.3 L2049.0,323.4 L2051.0,323.5 L2053.0,323.6 L2055.0,323.7 L2057.0,323.8 L2059.0,323.9 L2061.0,324.0 L2063.0,324.1 L2065.0,324.2 L2067.0,324.3 L2069.0,324.4 L2071.0,324.5 L2073.0,324.6 L2075.0,324.7 L2077.0,324.8 L2079.0,324.9 L2081.0,325.0 L2083.0,325.1 L2085.0,325.2 L2087.0,325.3 L2089.0,325.4 L2091.0,325.5 L2093.0,325.6 L2095.0,325.7 L2097.0,325.8 L2099.0,325.9 L2101.0,326.0 L2103.0,326.1 L2105.0,326.2 L2107.0,326.3 L2109.0,326.4 L2111.0,326.5 L2113.1,326.6 L2115.1,326.7 L2117.1,326.8 L2119.1,326.9 L2121.1,327.0 L2123.1,327.1 L2125.1,327.3 L2127.1,327.4 L2129.1,327.5 L2131.1,327.7 L2133.1,327.8 L2135.1,327.9 L2137.1,328.1 L2139.1,328.2 L2141.1,328.3 L2143.1,328.5 L2145.1,328.6 L2147.1,328.7 L2149.1,328.9 L2151.1,329.0 L2153.1,329.1 L2155.1,329.2 L2157.1,329.3 L2159.1,329.5 L2161.1,329.6 L2163.1,329.6 L2165.1,329.7 L2167.1,329.8 L2169.1,329.9 L2171.1,330.0 L2173.1,330.0 L2175.1,330.1 L2177.1,330.2 L2179.1,330.3 L2181.1,330.3 L2183.1,330.4 L2185.1,330.5 L2187.1,330.5 L2189.1,330.6 L2191.1,330.7 L2193.1,330.7 L2195.1,330.8 L2197.1,330.8 L2199.1,330.9 L2201.1,331.0 L2203.1,331.0 L2205.1,331.1 L2207.2,331.1 L2209.2,331.1 L2211.2,331.2 L2213.2,331.2 L2215.2,331.3 L2217.2,331.3 L2219.2,331.3 L2221.2,331.4 L2223.2,331.4 L2225.2,331.4 L2233.2,331.5"/><path stroke-width="10.1" d="M346.0,129.8 L354.0,129.8 L602.7,130.6 L612.1,130.5 L619.4,130.7 L632.5,130.6 L639.7,130.5 L651.4,130.5 L661.5,130.4 L668.8,130.0 L677.5,129.6 L686.2,129.5 L695.0,129.3 L700.8,129.1 L709.5,129.1 L719.7,128.8 L731.3,128.7 L741.5,128.5 L748.7,128.4 L756.0,128.4 L763.3,128.5 L770.5,128.6 L777.8,128.6 L783.6,128.8 L790.9,128.6 L799.6,128.5 L806.9,128.4 L817.1,128.4 L825.8,128.6 L835.9,128.6 L850.5,128.8 L862.1,128.7 L875.2,128.6 L882.5,128.5 L889.7,128.7 L895.5,129.1 L902.2,129.2 L910.9,129.5 L924.0,129.6 L931.3,129.8 L942.9,129.8 L953.1,129.7 L967.6,129.6 L974.9,129.5 L980.7,129.1 L986.5,128.8 L995.2,128.6 L1006.9,128.6 L1014.1,128.6 L1022.9,128.6 L1030.1,128.7 L1040.3,128.6 L1047.6,128.5 L1056.3,128.4 L1062.1,128.6 L1070.8,128.9 L1081.0,129.5 L1088.3,130.0 L1098.4,130.2 L1110.1,130.5 L1120.2,130.7 L1131.9,130.9 L1140.6,131.0 L1149.3,131.2 L1158.0,131.1 L1165.3,130.8 L1175.5,130.6 L1187.1,130.7 L1200.2,130.6 L1207.5,130.7 L1208.3,130.7 L1219.2,130.6 L1227.0,131.1 L1239.5,131.2 L1248.8,131.5 L1255.0,131.9 L1265.9,131.9 L1278.4,132.1 L1294.0,132.3 L1314.2,132.4 L1322.0,132.8 L1337.6,133.0 L1343.8,133.2 L1357.8,133.2 L1379.6,133.3 L1387.4,133.9 L1395.2,134.1 L1413.9,134.1 L1421.7,134.7 L1432.6,134.9 L1441.9,135.5 L1449.7,135.7 L1457.5,136.2 L1465.3,136.8 L1469.9,137.5 L1485.5,137.6 L1487.1,138.6 L1493.3,139.2 L1502.6,139.6 L1512.0,140.3 L1522.9,140.7 L1529.1,141.4 L1538.2,141.8 L1540.3,141.7 L1542.3,141.7 L1544.3,141.8 L1546.3,141.9 L1548.3,142.0 L1550.3,142.1 L1552.3,142.2 L1554.3,142.3 L1556.3,142.8 L1558.3,143.0 L1560.3,143.2 L1562.3,143.4 L1564.3,143.4 L1566.3,143.6 L1568.3,143.8 L1570.3,144.0 L1572.3,144.2 L1574.3,144.5 L1576.3,143.1 L1578.3,143.2 L1580.2,143.4 L1582.2,143.6 L1584.2,143.8 L1586.2,144.1 L1588.2,144.3 L1590.1,144.7 L1592.1,145.0 L1594.1,145.3 L1596.1,145.7 L1598.1,146.0 L1600.0,146.5 L1602.0,146.8 L1604.0,147.2 L1606.0,147.5 L1607.9,149.4 L1609.9,149.8 L1611.9,150.2 L1613.8,150.6 L1615.8,151.0 L1617.7,151.5 L1619.7,151.9 L1621.6,152.5 L1623.5,151.7 L1625.5,152.2 L1627.4,152.8 L1629.3,153.4 L1631.2,154.0 L1633.2,156.8 L1635.1,157.4 L1637.0,157.9 L1638.9,158.5 L1640.9,159.0 L1642.8,159.5 L1644.7,160.0 L1646.7,160.5 L1648.6,161.0 L1650.6,161.2 L1652.6,161.5 L1654.5,161.9 L1656.5,162.2 L1658.5,162.5 L1660.5,162.7 L1662.5,164.8 L1664.5,165.1 L1666.5,165.4 L1668.4,165.7 L1670.4,165.5 L1672.4,165.9 L1674.3,166.3 L1676.3,166.7 L1678.3,167.1 L1680.2,164.5 L1682.2,165.0 L1684.1,165.5 L1686.0,166.0 L1688.0,166.5 L1689.9,167.8 L1691.8,168.3 L1693.8,168.8 L1695.7,169.4 L1697.6,170.0 L1699.5,170.6 L1701.4,171.2 L1703.3,171.8 L1705.2,171.9 L1707.1,172.6 L1709.0,173.2 L1710.9,173.9 L1712.8,174.6 L1714.7,175.3 L1716.6,176.0 L1718.4,178.7 L1720.3,179.5 L1722.1,180.3 L1724.0,181.1 L1725.8,181.9 L1727.7,182.6 L1729.5,183.0 L1731.4,183.6 L1733.3,184.2 L1735.2,184.8 L1737.2,183.1 L1739.1,183.6 L1741.1,184.1 L1743.0,184.5 L1745.0,185.0 L1746.9,188.2 L1748.9,188.7 L1750.8,189.2 L1752.8,189.7 L1754.7,190.2 L1756.7,190.7 L1758.6,189.6 L1760.5,190.2 L1762.5,190.8 L1764.4,191.4 L1766.2,192.0 L1768.1,192.7 L1769.9,193.5 L1771.8,195.0 L1773.6,195.8 L1775.4,196.7 L1777.2,197.6 L1779.0,198.4 L1780.8,199.3 L1782.6,201.7 L1784.4,202.6 L1786.2,203.5 L1788.0,204.4 L1789.8,205.3 L1791.6,206.2 L1793.4,207.0 L1795.3,207.8 L1797.2,206.1 L1799.0,206.8 L1800.9,207.6 L1802.8,208.3 L1804.7,209.1 L1806.5,209.9 L1808.2,210.8 L1809.9,213.0 L1811.6,214.1 L1813.2,215.4 L1814.7,216.6 L1816.3,217.9 L1817.9,219.1 L1819.5,220.3 L1821.2,221.4 L1822.9,222.5 L1824.6,223.5 L1826.3,225.4 L1828.1,226.5 L1829.8,227.5 L1831.5,228.5 L1833.2,229.5 L1835.0,230.6 L1836.7,232.7 L1838.4,233.8 L1840.1,234.9 L1841.8,235.9 L1843.5,237.0 L1845.2,235.5 L1846.9,236.5 L1848.7,237.6 L1850.4,238.5 L1852.2,239.5 L1853.9,240.4 L1855.7,241.3 L1857.5,242.2 L1859.3,241.9 L1861.1,242.8 L1862.9,243.7 L1864.7,244.7 L1866.4,245.7 L1868.2,246.7 L1869.9,247.7 L1871.6,248.3 L1873.2,249.4 L1874.9,250.5 L1876.6,251.5 L1878.4,252.6 L1880.1,253.5 L1881.9,254.4 L1883.8,255.2 L1885.7,259.2 L1887.6,260.0 L1889.4,260.9 L1891.0,261.9 L1892.5,263.1 L1893.9,264.4 L1895.2,266.0 L1896.5,267.6 L1897.7,269.2 L1899.0,271.3 L1900.4,272.8 L1901.7,274.2 L1903.1,275.7 L1904.5,277.1 L1906.0,278.5 L1907.4,279.9 L1908.9,280.5 L1910.4,281.9 L1911.9,283.2 L1913.5,284.5 L1915.1,285.7 L1916.7,286.6 L1918.5,287.5 L1920.3,288.2 L1922.2,288.4 L1924.1,289.0 L1926.0,289.6 L1928.0,290.2 L1930.0,290.8 L1931.9,291.4 L1933.8,293.2 L1935.7,293.9 L1937.5,294.7 L1939.4,295.5 L1941.2,296.4 L1943.0,297.3 L1944.8,298.2 L1946.6,299.1 L1948.4,300.0 L1950.2,299.2 L1952.1,299.9 L1954.0,300.5 L1955.9,301.1 L1957.8,301.6 L1959.8,302.1 L1961.7,302.6 L1963.7,301.3 L1965.6,301.8 L1967.5,302.4 L1969.4,303.0 L1971.3,303.8 L1973.1,304.6 L1974.9,305.5 L1976.7,306.3 L1978.6,309.8 L1980.4,310.7 L1982.2,311.5 L1984.1,312.2 L1986.0,312.8 L1987.9,313.4 L1989.8,313.9 L1991.7,314.3 L1993.7,314.7 L1995.7,315.8 L1997.6,316.2 L1999.6,316.5 L2001.6,316.9 L2003.5,317.3 L2005.4,316.6 L2007.4,317.1 L2009.3,317.7 L2011.3,318.2 L2013.2,318.7 L2015.2,319.2 L2017.1,319.6 L2019.1,319.6 L2021.1,320.0 L2023.0,320.5 L2025.0,320.9 L2027.0,321.3 L2029.0,321.7 L2031.0,322.0 L2033.0,322.2 L2035.0,322.4 L2037.0,322.6 L2039.0,322.7 L2041.0,322.9 L2043.0,323.0 L2045.0,323.1 L2047.0,323.3 L2049.0,323.4 L2051.0,323.5 L2053.0,323.6 L2055.0,323.7 L2057.0,323.8 L2059.0,323.9 L2061.0,324.0 L2063.0,324.1 L2065.0,324.2 L2067.0,324.3 L2069.0,324.4 L2071.0,324.5 L2073.0,324.6 L2075.0,324.7 L2077.0,324.8 L2079.0,324.9 L2081.0,325.0 L2083.0,325.1 L2085.0,325.2 L2087.0,325.3 L2089.0,325.4 L2091.0,325.5 L2093.0,325.6 L2095.0,325.7 L2097.0,325.8 L2099.0,325.9 L2101.0,326.0 L2103.0,326.1 L2105.0,326.2 L2107.0,326.3 L2109.0,326.4 L2111.0,326.5 L2113.1,326.6 L2115.1,326.7 L2117.1,326.8 L2119.1,326.9 L2121.1,327.0 L2123.1,327.1 L2125.1,327.3 L2127.1,327.4 L2129.1,327.5 L2131.1,327.7 L2133.1,327.8 L2135.1,327.9 L2137.1,328.1 L2139.1,328.2 L2141.1,328.3 L2143.1,328.5 L2145.1,328.6 L2147.1,328.7 L2149.1,328.9 L2151.1,329.0 L2153.1,329.1 L2155.1,329.2 L2157.1,329.3 L2159.1,329.5 L2161.1,329.6 L2163.1,329.6 L2165.1,329.7 L2167.1,329.8 L2169.1,329.9 L2171.1,330.0 L2173.1,330.0 L2175.1,330.1 L2177.1,330.2 L2179.1,330.3 L2181.1,330.3 L2183.1,330.4 L2185.1,330.5 L2187.1,330.5 L2189.1,330.6 L2191.1,330.7 L2193.1,330.7 L2195.1,330.8 L2197.1,330.8 L2199.1,330.9 L2201.1,331.0 L2203.1,331.0 L2205.1,331.1 L2207.2,331.1 L2209.2,331.1 L2211.2,331.2 L2213.2,331.2 L2215.2,331.3 L2217.2,331.3 L2219.2,331.3 L2221.2,331.4 L2223.2,331.4 L2225.2,331.4 L2233.2,331.5"/></g>
</g>
<g id="legend">
<line x1="400.3" y1="964.0" x2="601.8" y2="964.0" stroke="#000" stroke-width="12" stroke-linecap="round"/>
<text transform="translate(625.6,991.0) scale(1,1.05)" class="leg">BC/Ce-300</text>
<line x1="400.3" y1="1062.8" x2="601.8" y2="1062.8" stroke="#f00" stroke-width="12" stroke-linecap="round"/>
<text transform="translate(625.6,1089.8) scale(1,1.05)" class="leg">BC/Ce-350</text>
<line x1="400.3" y1="1161.6" x2="601.8" y2="1161.6" stroke="#0f0" stroke-width="12" stroke-linecap="round"/>
<text transform="translate(625.6,1188.6) scale(1,1.05)" class="leg">BC/Ce-400</text>
<line x1="400.3" y1="1260.4" x2="601.8" y2="1260.4" stroke="#00f" stroke-width="12" stroke-linecap="round"/>
<text transform="translate(625.6,1287.4) scale(1,1.05)" class="leg">BC/Ce-500</text>
<line x1="400.3" y1="1359.2" x2="601.8" y2="1359.2" stroke="#f0f" stroke-width="12" stroke-linecap="round"/>
<text transform="translate(625.6,1386.2) scale(1,1.05)" class="leg">BC/Ce</text>
</g>
<g id="inset">
<g stroke="#000" fill="none">
<line x1="917" y1="171" x2="917" y2="712" stroke-width="4"/>
<line x1="915" y1="710.5" x2="1742.5" y2="710.5" stroke-width="3"/>
<g stroke-linecap="round">
<line x1="917" y1="643.0" x2="929" y2="643.0" stroke-width="4"/>
<line x1="917" y1="575.8" x2="923.4" y2="575.8" stroke-width="3"/>
<line x1="917" y1="508.7" x2="929" y2="508.7" stroke-width="4"/>
<line x1="917" y1="441.5" x2="923.4" y2="441.5" stroke-width="3"/>
<line x1="917" y1="374.3" x2="929" y2="374.3" stroke-width="4"/>
<line x1="917" y1="307.2" x2="923.4" y2="307.2" stroke-width="3"/>
<line x1="917" y1="240.0" x2="929" y2="240.0" stroke-width="4"/>
<line x1="917" y1="172.8" x2="923.4" y2="172.8" stroke-width="3"/>
<line x1="971.9" y1="710" x2="971.9" y2="699.9" stroke-width="3.6"/>
<line x1="1040.6" y1="710" x2="1040.6" y2="704.6" stroke-width="3"/>
<line x1="1109.2" y1="710" x2="1109.2" y2="699.9" stroke-width="3.6"/>
<line x1="1177.9" y1="710" x2="1177.9" y2="704.6" stroke-width="3"/>
<line x1="1246.5" y1="710" x2="1246.5" y2="699.9" stroke-width="3.6"/>
<line x1="1315.2" y1="710" x2="1315.2" y2="704.6" stroke-width="3"/>
<line x1="1383.9" y1="710" x2="1383.9" y2="699.9" stroke-width="3.6"/>
<line x1="1452.5" y1="710" x2="1452.5" y2="704.6" stroke-width="3"/>
<line x1="1521.2" y1="710" x2="1521.2" y2="699.9" stroke-width="3.6"/>
<line x1="1589.8" y1="710" x2="1589.8" y2="704.6" stroke-width="3"/>
<line x1="1658.5" y1="710" x2="1658.5" y2="699.9" stroke-width="3.6"/>
<line x1="1727.1" y1="710" x2="1727.1" y2="704.6" stroke-width="3"/>
</g></g>
<g id="inset-labels">
<text transform="translate(904.6,655.0) scale(1,1.022)" class="itick" text-anchor="end">99</text>
<text transform="translate(904.6,520.7) scale(1,1.022)" class="itick" text-anchor="end">100</text>
<text transform="translate(904.6,386.3) scale(1,1.022)" class="itick" text-anchor="end">101</text>
<text transform="translate(904.6,252.0) scale(1,1.022)" class="itick" text-anchor="end">102</text>
<text transform="translate(971.9,756.3) scale(1,1.022)" class="itick" text-anchor="middle">200</text>
<text transform="translate(1109.2,756.3) scale(1,1.022)" class="itick" text-anchor="middle">250</text>
<text transform="translate(1246.5,756.3) scale(1,1.022)" class="itick" text-anchor="middle">300</text>
<text transform="translate(1383.9,756.3) scale(1,1.022)" class="itick" text-anchor="middle">350</text>
<text transform="translate(1521.2,756.3) scale(1,1.022)" class="itick" text-anchor="middle">400</text>
<text transform="translate(1658.5,756.3) scale(1,1.022)" class="itick" text-anchor="middle">450</text>
</g>
<g id="inset-curves" class="curve" clip-path="url(#clip-inset)">
<g stroke="#000"><path id="i-black" class="crisp" stroke-width="10.0" d="M910.6,530.0 L915.6,529.6 L917.7,529.5 L919.9,529.3 L922.0,529.1 L924.1,529.0 L926.2,529.5 L928.4,530.0 L930.5,530.5 L932.8,530.4 L935.1,530.3 L937.4,530.2 L939.7,530.1 L942.1,530.0 L944.2,530.1 L946.3,529.9 L948.5,529.6 L950.5,529.6 L952.6,529.6 L954.6,529.6 L956.7,529.6 L958.7,528.7 L961.0,528.4 L963.2,528.1 L965.4,527.8 L967.7,527.5 L969.8,526.3 L972.0,525.1 L974.1,523.9 L976.0,522.1 L977.9,521.2 L979.9,520.2 L981.8,519.2 L984.4,518.7 L986.9,518.2 L989.5,517.7 L992.1,518.2 L994.6,517.7 L997.2,517.1 L999.7,516.1 L1002.3,515.2 L1004.9,515.0 L1007.4,514.8 L1010.0,514.5 L1012.2,512.6 L1014.5,512.0 L1016.7,511.3 L1019.0,510.7 L1021.0,510.4 L1023.1,510.2 L1025.1,509.9 L1027.2,509.7 L1029.2,509.4 L1031.5,508.9 L1033.7,508.4 L1036.0,508.0 L1038.2,507.5 L1040.3,507.0 L1042.5,506.5 L1044.6,507.4 L1046.8,507.6 L1048.9,507.7 L1051.0,507.9 L1053.2,508.2 L1055.3,509.1 L1057.4,509.4 L1059.6,509.7 L1061.7,510.0 L1063.8,510.3 L1066.0,510.3 L1068.1,510.3 L1070.3,510.3 L1072.8,511.5 L1075.4,512.8 L1077.5,511.4 L1079.7,510.8 L1081.8,510.1 L1084.4,509.7 L1086.9,509.3 L1089.5,508.8 L1091.6,508.6 L1093.8,508.4 L1095.9,507.0 L1098.1,507.0 L1100.4,507.0 L1102.6,507.0 L1104.9,507.9 L1107.4,508.3 L1110.0,508.7 L1112.6,509.2 L1114.8,508.5 L1117.1,508.6 L1119.3,508.6 L1121.5,508.7 L1123.7,509.0 L1125.8,509.3 L1127.9,509.1 L1130.1,509.4 L1132.2,509.6 L1134.4,509.9 L1136.4,509.8 L1138.5,509.8 L1140.5,509.7 L1142.6,510.7 L1144.6,510.6 L1146.9,510.4 L1149.2,510.2 L1151.5,510.0 L1153.8,509.8 L1156.2,509.6 L1158.3,509.2 L1160.4,508.7 L1162.6,508.5 L1164.7,509.1 L1166.8,509.8 L1169.0,510.4 L1170.7,511.7 L1172.4,513.0 L1174.1,514.3 L1176.1,514.7 L1178.0,515.1 L1180.0,515.5 L1181.9,516.2 L1183.8,516.8 L1185.8,517.4 L1187.7,518.1 L1190.0,518.5 L1192.3,518.8 L1194.6,519.2 L1196.9,519.6 L1199.2,519.9 L1201.4,520.5 L1203.5,521.2 L1205.6,521.8 L1207.7,521.7 L1209.7,521.6 L1211.8,522.7 L1213.8,522.6 L1215.9,522.5 L1218.1,522.3 L1220.4,522.2 L1222.6,522.0 L1224.9,521.8 L1227.0,521.7 L1229.1,521.6 L1231.3,521.5 L1233.4,521.4 L1235.6,520.9 L1237.7,520.8 L1239.8,520.4 L1242.0,520.0 L1244.1,519.5 L1245.8,518.3 L1247.5,517.0 L1249.2,515.7 L1250.9,514.6 L1252.6,513.6 L1254.4,511.2 L1256.3,510.6 L1258.2,509.9 L1260.1,509.3 L1262.1,508.7 L1264.1,508.7 L1266.2,508.6 L1268.2,508.6 L1270.3,508.6 L1272.3,508.6 L1274.4,508.8 L1276.6,510.2 L1278.7,510.4 L1281.3,510.2 L1283.8,510.0 L1286.4,509.7 L1288.5,510.0 L1290.7,510.5 L1292.8,510.8 L1295.1,510.6 L1297.3,510.4 L1299.6,510.2 L1301.8,509.9 L1303.9,509.7 L1306.1,509.8 L1308.2,509.6 L1310.8,509.3 L1313.3,509.1 L1315.9,508.9 L1318.5,509.9 L1321.0,510.8 L1322.9,511.6 L1324.9,512.4 L1326.8,510.9 L1328.7,511.8 L1330.5,512.8 L1332.3,513.8 L1334.1,514.8 L1335.9,515.9 L1337.7,516.9 L1339.3,520.5 L1340.9,521.9 L1342.5,523.4 L1344.1,524.8 L1346.3,525.3 L1348.6,525.8 L1350.8,526.3 L1353.1,526.8 L1355.1,527.4 L1357.2,527.9 L1359.2,528.5 L1361.3,529.0 L1363.3,529.5 L1365.6,530.1 L1367.8,530.8 L1370.1,529.2 L1372.3,529.9 L1374.4,530.3 L1376.4,530.6 L1378.5,531.0 L1380.5,531.4 L1382.6,531.8 L1385.1,532.2 L1387.7,534.3 L1390.3,534.8 L1392.8,535.2 L1395.4,535.6 L1397.9,536.1 L1400.5,534.2 L1403.1,534.0 L1405.6,533.8 L1407.8,532.7 L1409.9,531.6 L1412.1,530.5 L1414.3,532.3 L1416.5,531.9 L1418.8,531.5 L1421.0,531.1 L1423.1,531.2 L1425.1,531.3 L1427.2,531.4 L1429.2,531.5 L1431.3,531.6 L1433.6,529.5 L1435.9,529.4 L1438.2,529.3 L1440.5,529.2 L1442.8,529.1 L1445.0,529.4 L1447.1,529.6 L1449.2,529.9 L1450.0,530.0 L1452.4,529.7 L1454.8,529.3 L1457.2,530.6 L1459.6,530.3 L1461.3,531.7 L1463.0,533.0 L1464.8,534.4 L1466.5,535.8 L1468.7,535.4 L1470.9,535.5 L1473.1,535.6 L1475.3,535.8 L1477.5,535.9 L1479.5,536.6 L1481.6,537.3 L1483.7,537.1 L1485.7,537.8 L1487.5,539.1 L1489.4,540.5 L1491.2,541.9 L1493.6,541.9 L1496.0,541.9 L1498.4,541.9 L1500.8,541.9 L1503.0,542.2 L1505.2,542.6 L1507.4,543.0 L1509.6,543.4 L1511.8,543.8 L1514.1,544.1 L1516.4,544.4 L1518.7,544.7 L1521.0,545.0 L1523.3,545.3 L1525.5,545.6 L1527.8,545.7 L1530.0,545.8 L1532.2,545.9 L1534.5,546.0 L1536.7,546.4 L1538.9,546.5 L1541.2,546.6 L1543.4,546.8 L1545.1,547.8 L1546.8,548.8 L1548.6,551.7 L1550.3,552.7 L1552.6,553.0 L1554.9,553.4 L1557.1,553.7 L1559.4,554.1 L1561.7,554.4 L1564.0,554.8 L1566.8,555.8 L1569.5,555.2 L1571.6,555.2 L1573.6,555.2 L1575.7,555.2 L1577.7,555.2 L1579.8,555.2 L1581.9,555.2 L1584.0,555.4 L1586.1,555.5 L1588.3,555.7 L1590.4,555.6 L1592.6,555.8 L1594.7,555.9 L1596.8,556.1 L1599.0,556.2 L1601.1,556.4 L1602.8,557.7 L1604.5,560.7 L1606.2,562.0 L1608.0,563.4 L1610.3,564.1 L1612.5,564.8 L1614.8,565.5 L1616.9,565.6 L1619.0,565.6 L1621.0,565.7 L1623.1,564.0 L1625.1,564.1 L1627.2,564.2 L1629.3,564.3 L1631.3,564.3 L1633.0,565.7 L1634.8,567.1 L1636.5,568.5 L1638.2,569.8 L1640.1,570.4 L1642.0,570.9 L1644.0,571.5 L1645.9,572.3 L1647.8,572.9 L1649.9,574.2 L1651.9,575.6 L1654.0,577.0 L1656.0,578.4 L1658.3,580.4 L1660.6,581.1 L1662.9,581.8 L1664.6,583.1 L1666.3,584.5 L1668.1,585.9 L1669.8,587.2 L1671.5,587.5 L1673.2,588.9 L1674.9,590.2 L1676.6,591.6 L1677.7,593.3 L1678.7,595.0 L1679.7,596.8 L1680.8,598.0 L1683.1,598.2 L1685.3,598.4 L1687.6,598.7 L1689.9,598.9 L1692.2,599.1 L1694.5,599.3 L1694.8,601.7 L1695.2,604.2 L1695.5,606.6 L1695.9,609.0 L1697.3,611.1 L1698.6,612.8 L1700.0,614.6 L1701.4,616.3 L1703.4,617.2 L1705.5,618.1 L1707.6,619.0 L1709.6,619.9 L1711.3,621.4 L1712.9,622.9 L1714.6,624.6 L1716.2,626.1 L1717.9,627.7 L1719.8,628.5 L1721.7,629.3 L1723.6,630.2 L1725.5,631.0 L1727.5,631.9 L1728.8,633.6 L1730.2,635.5 L1731.6,637.2 L1733.0,638.8 L1735.0,639.8 L1737.0,640.9 L1739.0,641.9 L1741.0,642.9 L1746.0,645.5"/><path stroke-width="8.4" d="M910.6,530.0 L915.6,529.6 L917.7,529.5 L919.9,529.3 L922.0,529.1 L924.1,529.0 L926.2,529.5 L928.4,530.0 L930.5,530.5 L932.8,530.4 L935.1,530.3 L937.4,530.2 L939.7,530.1 L942.1,530.0 L944.2,530.1 L946.3,529.9 L948.5,529.6 L950.5,529.6 L952.6,529.6 L954.6,529.6 L956.7,529.6 L958.7,528.7 L961.0,528.4 L963.2,528.1 L965.4,527.8 L967.7,527.5 L969.8,526.3 L972.0,525.1 L974.1,523.9 L976.0,522.1 L977.9,521.2 L979.9,520.2 L981.8,519.2 L984.4,518.7 L986.9,518.2 L989.5,517.7 L992.1,518.2 L994.6,517.7 L997.2,517.1 L999.7,516.1 L1002.3,515.2 L1004.9,515.0 L1007.4,514.8 L1010.0,514.5 L1012.2,512.6 L1014.5,512.0 L1016.7,511.3 L1019.0,510.7 L1021.0,510.4 L1023.1,510.2 L1025.1,509.9 L1027.2,509.7 L1029.2,509.4 L1031.5,508.9 L1033.7,508.4 L1036.0,508.0 L1038.2,507.5 L1040.3,507.0 L1042.5,506.5 L1044.6,507.4 L1046.8,507.6 L1048.9,507.7 L1051.0,507.9 L1053.2,508.2 L1055.3,509.1 L1057.4,509.4 L1059.6,509.7 L1061.7,510.0 L1063.8,510.3 L1066.0,510.3 L1068.1,510.3 L1070.3,510.3 L1072.8,511.5 L1075.4,512.8 L1077.5,511.4 L1079.7,510.8 L1081.8,510.1 L1084.4,509.7 L1086.9,509.3 L1089.5,508.8 L1091.6,508.6 L1093.8,508.4 L1095.9,507.0 L1098.1,507.0 L1100.4,507.0 L1102.6,507.0 L1104.9,507.9 L1107.4,508.3 L1110.0,508.7 L1112.6,509.2 L1114.8,508.5 L1117.1,508.6 L1119.3,508.6 L1121.5,508.7 L1123.7,509.0 L1125.8,509.3 L1127.9,509.1 L1130.1,509.4 L1132.2,509.6 L1134.4,509.9 L1136.4,509.8 L1138.5,509.8 L1140.5,509.7 L1142.6,510.7 L1144.6,510.6 L1146.9,510.4 L1149.2,510.2 L1151.5,510.0 L1153.8,509.8 L1156.2,509.6 L1158.3,509.2 L1160.4,508.7 L1162.6,508.5 L1164.7,509.1 L1166.8,509.8 L1169.0,510.4 L1170.7,511.7 L1172.4,513.0 L1174.1,514.3 L1176.1,514.7 L1178.0,515.1 L1180.0,515.5 L1181.9,516.2 L1183.8,516.8 L1185.8,517.4 L1187.7,518.1 L1190.0,518.5 L1192.3,518.8 L1194.6,519.2 L1196.9,519.6 L1199.2,519.9 L1201.4,520.5 L1203.5,521.2 L1205.6,521.8 L1207.7,521.7 L1209.7,521.6 L1211.8,522.7 L1213.8,522.6 L1215.9,522.5 L1218.1,522.3 L1220.4,522.2 L1222.6,522.0 L1224.9,521.8 L1227.0,521.7 L1229.1,521.6 L1231.3,521.5 L1233.4,521.4 L1235.6,520.9 L1237.7,520.8 L1239.8,520.4 L1242.0,520.0 L1244.1,519.5 L1245.8,518.3 L1247.5,517.0 L1249.2,515.7 L1250.9,514.6 L1252.6,513.6 L1254.4,511.2 L1256.3,510.6 L1258.2,509.9 L1260.1,509.3 L1262.1,508.7 L1264.1,508.7 L1266.2,508.6 L1268.2,508.6 L1270.3,508.6 L1272.3,508.6 L1274.4,508.8 L1276.6,510.2 L1278.7,510.4 L1281.3,510.2 L1283.8,510.0 L1286.4,509.7 L1288.5,510.0 L1290.7,510.5 L1292.8,510.8 L1295.1,510.6 L1297.3,510.4 L1299.6,510.2 L1301.8,509.9 L1303.9,509.7 L1306.1,509.8 L1308.2,509.6 L1310.8,509.3 L1313.3,509.1 L1315.9,508.9 L1318.5,509.9 L1321.0,510.8 L1322.9,511.6 L1324.9,512.4 L1326.8,510.9 L1328.7,511.8 L1330.5,512.8 L1332.3,513.8 L1334.1,514.8 L1335.9,515.9 L1337.7,516.9 L1339.3,520.5 L1340.9,521.9 L1342.5,523.4 L1344.1,524.8 L1346.3,525.3 L1348.6,525.8 L1350.8,526.3 L1353.1,526.8 L1355.1,527.4 L1357.2,527.9 L1359.2,528.5 L1361.3,529.0 L1363.3,529.5 L1365.6,530.1 L1367.8,530.8 L1370.1,529.2 L1372.3,529.9 L1374.4,530.3 L1376.4,530.6 L1378.5,531.0 L1380.5,531.4 L1382.6,531.8 L1385.1,532.2 L1387.7,534.3 L1390.3,534.8 L1392.8,535.2 L1395.4,535.6 L1397.9,536.1 L1400.5,534.2 L1403.1,534.0 L1405.6,533.8 L1407.8,532.7 L1409.9,531.6 L1412.1,530.5 L1414.3,532.3 L1416.5,531.9 L1418.8,531.5 L1421.0,531.1 L1423.1,531.2 L1425.1,531.3 L1427.2,531.4 L1429.2,531.5 L1431.3,531.6 L1433.6,529.5 L1435.9,529.4 L1438.2,529.3 L1440.5,529.2 L1442.8,529.1 L1445.0,529.4 L1447.1,529.6 L1449.2,529.9 L1450.0,530.0 L1452.4,529.7 L1454.8,529.3 L1457.2,530.6 L1459.6,530.3 L1461.3,531.7 L1463.0,533.0 L1464.8,534.4 L1466.5,535.8 L1468.7,535.4 L1470.9,535.5 L1473.1,535.6 L1475.3,535.8 L1477.5,535.9 L1479.5,536.6 L1481.6,537.3 L1483.7,537.1 L1485.7,537.8 L1487.5,539.1 L1489.4,540.5 L1491.2,541.9 L1493.6,541.9 L1496.0,541.9 L1498.4,541.9 L1500.8,541.9 L1503.0,542.2 L1505.2,542.6 L1507.4,543.0 L1509.6,543.4 L1511.8,543.8 L1514.1,544.1 L1516.4,544.4 L1518.7,544.7 L1521.0,545.0 L1523.3,545.3 L1525.5,545.6 L1527.8,545.7 L1530.0,545.8 L1532.2,545.9 L1534.5,546.0 L1536.7,546.4 L1538.9,546.5 L1541.2,546.6 L1543.4,546.8 L1545.1,547.8 L1546.8,548.8 L1548.6,551.7 L1550.3,552.7 L1552.6,553.0 L1554.9,553.4 L1557.1,553.7 L1559.4,554.1 L1561.7,554.4 L1564.0,554.8 L1566.8,555.8 L1569.5,555.2 L1571.6,555.2 L1573.6,555.2 L1575.7,555.2 L1577.7,555.2 L1579.8,555.2 L1581.9,555.2 L1584.0,555.4 L1586.1,555.5 L1588.3,555.7 L1590.4,555.6 L1592.6,555.8 L1594.7,555.9 L1596.8,556.1 L1599.0,556.2 L1601.1,556.4 L1602.8,557.7 L1604.5,560.7 L1606.2,562.0 L1608.0,563.4 L1610.3,564.1 L1612.5,564.8 L1614.8,565.5 L1616.9,565.6 L1619.0,565.6 L1621.0,565.7 L1623.1,564.0 L1625.1,564.1 L1627.2,564.2 L1629.3,564.3 L1631.3,564.3 L1633.0,565.7 L1634.8,567.1 L1636.5,568.5 L1638.2,569.8 L1640.1,570.4 L1642.0,570.9 L1644.0,571.5 L1645.9,572.3 L1647.8,572.9 L1649.9,574.2 L1651.9,575.6 L1654.0,577.0 L1656.0,578.4 L1658.3,580.4 L1660.6,581.1 L1662.9,581.8 L1664.6,583.1 L1666.3,584.5 L1668.1,585.9 L1669.8,587.2 L1671.5,587.5 L1673.2,588.9 L1674.9,590.2 L1676.6,591.6 L1677.7,593.3 L1678.7,595.0 L1679.7,596.8 L1680.8,598.0 L1683.1,598.2 L1685.3,598.4 L1687.6,598.7 L1689.9,598.9 L1692.2,599.1 L1694.5,599.3 L1694.8,601.7 L1695.2,604.2 L1695.5,606.6 L1695.9,609.0 L1697.3,611.1 L1698.6,612.8 L1700.0,614.6 L1701.4,616.3 L1703.4,617.2 L1705.5,618.1 L1707.6,619.0 L1709.6,619.9 L1711.3,621.4 L1712.9,622.9 L1714.6,624.6 L1716.2,626.1 L1717.9,627.7 L1719.8,628.5 L1721.7,629.3 L1723.6,630.2 L1725.5,631.0 L1727.5,631.9 L1728.8,633.6 L1730.2,635.5 L1731.6,637.2 L1733.0,638.8 L1735.0,639.8 L1737.0,640.9 L1739.0,641.9 L1741.0,642.9 L1746.0,645.5"/></g>
<g stroke="#f00"><path id="i-red" class="crisp" stroke-width="6.2" d="M910.6,365.5 L915.6,363.5 L918.3,360.1 L922.8,362.7 L929.2,358.2 L933.7,357.9 L938.8,353.7 L944.0,355.9 L949.7,349.0 L958.1,351.8 L963.8,345.4 L968.3,342.8 L973.5,346.0 L977.9,341.5 L982.4,343.8 L986.9,336.4 L990.1,333.8 L995.3,337.7 L1001.0,330.6 L1004.9,329.7 L1011.3,330.6 L1016.4,328.7 L1022.2,330.0 L1028.6,325.5 L1033.7,329.4 L1039.5,321.7 L1045.9,319.1 L1052.3,324.9 L1058.1,315.9 L1061.9,315.3 L1069.0,319.7 L1074.1,314.0 L1076.7,313.6 L1085.6,315.3 L1091.4,308.5 L1099.7,308.8 L1108.1,312.1 L1113.8,305.0 L1116.4,304.4 L1121.5,308.8 L1127.9,301.8 L1134.4,299.9 L1141.4,305.0 L1148.5,297.9 L1152.3,296.0 L1157.4,300.3 L1161.9,299.2 L1167.1,293.7 L1172.8,298.6 L1177.3,301.2 L1180.0,299.4 L1187.7,294.2 L1196.7,300.0 L1203.7,292.1 L1212.1,291.7 L1218.5,295.9 L1223.6,294.9 L1230.0,287.8 L1237.7,288.7 L1245.4,294.9 L1255.6,293.6 L1267.2,284.0 L1273.6,285.9 L1278.7,284.0 L1282.6,285.9 L1289.0,292.9 L1294.1,293.6 L1300.5,287.2 L1308.2,284.6 L1312.1,285.6 L1319.7,283.6 L1331.3,287.2 L1336.4,292.1 L1342.2,287.8 L1346.7,291.7 L1351.8,287.8 L1358.2,291.0 L1364.0,284.6 L1371.0,290.8 L1377.4,287.8 L1383.8,287.4 L1390.3,289.1 L1397.9,288.5 L1405.6,290.4 L1413.3,292.9 L1426.2,292.6 L1432.6,294.6 L1444.1,294.6 L1450.5,298.1 L1455.6,296.8 L1459.6,298.4 L1465.8,304.3 L1472.0,302.5 L1477.5,305.7 L1483.0,305.9 L1489.1,303.9 L1496.7,306.2 L1504.9,307.6 L1510.4,314.2 L1515.9,312.1 L1521.4,311.4 L1526.2,310.1 L1535.9,319.4 L1540.0,317.6 L1544.1,319.7 L1551.6,319.7 L1555.8,320.8 L1561.3,325.9 L1566.8,324.9 L1569.5,325.2 L1573.6,328.6 L1580.5,329.0 L1586.0,332.0 L1590.1,331.8 L1594.2,334.1 L1597.0,334.8 L1602.5,337.8 L1608.7,338.2 L1613.5,341.4 L1619.0,343.0 L1625.8,349.6 L1634.1,352.6 L1640.9,362.3 L1656.0,362.9 L1659.5,367.1 L1665.0,370.5 L1672.5,384.2 L1676.0,387.0 L1680.8,387.0 L1684.9,395.9 L1689.7,397.3 L1695.9,402.8 L1701.4,408.3 L1706.2,415.8 L1712.4,426.8 L1716.5,428.9 L1726.1,432.3 L1735.7,437.8 L1741.0,442.0 L1746.0,444.6"/><path stroke-width="4.6" d="M910.6,365.5 L915.6,363.5 L918.3,360.1 L922.8,362.7 L929.2,358.2 L933.7,357.9 L938.8,353.7 L944.0,355.9 L949.7,349.0 L958.1,351.8 L963.8,345.4 L968.3,342.8 L973.5,346.0 L977.9,341.5 L982.4,343.8 L986.9,336.4 L990.1,333.8 L995.3,337.7 L1001.0,330.6 L1004.9,329.7 L1011.3,330.6 L1016.4,328.7 L1022.2,330.0 L1028.6,325.5 L1033.7,329.4 L1039.5,321.7 L1045.9,319.1 L1052.3,324.9 L1058.1,315.9 L1061.9,315.3 L1069.0,319.7 L1074.1,314.0 L1076.7,313.6 L1085.6,315.3 L1091.4,308.5 L1099.7,308.8 L1108.1,312.1 L1113.8,305.0 L1116.4,304.4 L1121.5,308.8 L1127.9,301.8 L1134.4,299.9 L1141.4,305.0 L1148.5,297.9 L1152.3,296.0 L1157.4,300.3 L1161.9,299.2 L1167.1,293.7 L1172.8,298.6 L1177.3,301.2 L1180.0,299.4 L1187.7,294.2 L1196.7,300.0 L1203.7,292.1 L1212.1,291.7 L1218.5,295.9 L1223.6,294.9 L1230.0,287.8 L1237.7,288.7 L1245.4,294.9 L1255.6,293.6 L1267.2,284.0 L1273.6,285.9 L1278.7,284.0 L1282.6,285.9 L1289.0,292.9 L1294.1,293.6 L1300.5,287.2 L1308.2,284.6 L1312.1,285.6 L1319.7,283.6 L1331.3,287.2 L1336.4,292.1 L1342.2,287.8 L1346.7,291.7 L1351.8,287.8 L1358.2,291.0 L1364.0,284.6 L1371.0,290.8 L1377.4,287.8 L1383.8,287.4 L1390.3,289.1 L1397.9,288.5 L1405.6,290.4 L1413.3,292.9 L1426.2,292.6 L1432.6,294.6 L1444.1,294.6 L1450.5,298.1 L1455.6,296.8 L1459.6,298.4 L1465.8,304.3 L1472.0,302.5 L1477.5,305.7 L1483.0,305.9 L1489.1,303.9 L1496.7,306.2 L1504.9,307.6 L1510.4,314.2 L1515.9,312.1 L1521.4,311.4 L1526.2,310.1 L1535.9,319.4 L1540.0,317.6 L1544.1,319.7 L1551.6,319.7 L1555.8,320.8 L1561.3,325.9 L1566.8,324.9 L1569.5,325.2 L1573.6,328.6 L1580.5,329.0 L1586.0,332.0 L1590.1,331.8 L1594.2,334.1 L1597.0,334.8 L1602.5,337.8 L1608.7,338.2 L1613.5,341.4 L1619.0,343.0 L1625.8,349.6 L1634.1,352.6 L1640.9,362.3 L1656.0,362.9 L1659.5,367.1 L1665.0,370.5 L1672.5,384.2 L1676.0,387.0 L1680.8,387.0 L1684.9,395.9 L1689.7,397.3 L1695.9,402.8 L1701.4,408.3 L1706.2,415.8 L1712.4,426.8 L1716.5,428.9 L1726.1,432.3 L1735.7,437.8 L1741.0,442.0 L1746.0,444.6"/></g>
<g stroke="#0f0"><path id="i-green" class="crisp" stroke-width="6.2" d="M910.6,478.8 L915.6,478.3 L921.5,479.0 L927.9,478.7 L933.7,476.4 L940.1,474.5 L947.2,475.8 L954.9,475.1 L960.6,472.8 L965.1,470.6 L971.5,472.8 L977.9,470.6 L984.4,471.9 L989.5,472.6 L995.9,465.5 L1002.3,468.7 L1008.7,464.2 L1016.4,465.5 L1024.1,463.6 L1031.8,463.3 L1039.5,465.5 L1043.3,464.6 L1049.1,465.9 L1054.9,462.9 L1061.3,461.0 L1069.0,464.2 L1075.4,459.1 L1080.5,461.7 L1086.9,460.4 L1091.4,461.0 L1097.2,456.5 L1103.6,456.2 L1107.4,457.2 L1113.2,455.3 L1119.0,457.8 L1124.1,454.6 L1130.5,456.5 L1142.1,455.3 L1148.5,455.9 L1154.9,457.2 L1161.3,454.0 L1167.7,455.3 L1172.8,455.9 L1179.2,454.6 L1180.0,454.6 L1186.4,454.6 L1191.5,453.1 L1196.7,453.6 L1201.8,454.6 L1208.2,453.1 L1214.6,454.0 L1221.0,452.1 L1227.4,450.1 L1231.3,452.1 L1237.7,451.8 L1242.8,452.3 L1249.2,450.1 L1254.4,452.1 L1262.1,454.0 L1268.5,452.7 L1275.5,449.7 L1282.6,451.0 L1289.0,450.8 L1295.4,452.1 L1303.1,450.8 L1309.5,451.4 L1315.9,448.8 L1322.3,451.0 L1331.3,452.1 L1337.7,450.8 L1345.4,453.1 L1352.4,450.8 L1358.2,452.1 L1364.0,454.0 L1369.1,452.1 L1374.9,454.9 L1378.7,452.7 L1383.8,454.0 L1391.5,454.0 L1397.9,455.3 L1405.6,457.2 L1412.7,453.1 L1417.8,455.9 L1426.2,454.0 L1431.3,455.9 L1437.7,455.3 L1445.4,456.5 L1453.1,459.7 L1458.2,458.2 L1466.5,456.1 L1473.4,458.8 L1480.9,460.9 L1486.4,458.6 L1494.0,464.1 L1501.5,459.9 L1506.3,461.3 L1511.8,465.7 L1520.1,463.2 L1525.5,465.7 L1532.4,466.0 L1539.3,468.5 L1543.4,466.0 L1550.3,471.2 L1555.8,468.7 L1561.3,470.9 L1565.4,469.8 L1572.3,473.3 L1580.5,472.9 L1592.9,472.9 L1599.7,477.4 L1606.6,476.7 L1612.8,482.9 L1619.0,481.1 L1629.9,481.9 L1636.8,484.7 L1640.9,484.7 L1647.8,487.7 L1656.0,487.7 L1664.3,491.8 L1669.8,494.6 L1675.3,492.5 L1682.1,499.4 L1691.8,502.8 L1697.3,506.9 L1702.7,513.8 L1708.2,515.9 L1719.2,526.2 L1726.1,527.8 L1734.3,532.3 L1741.0,538.6 L1746.0,541.4"/><path stroke-width="4.6" d="M910.6,478.8 L915.6,478.3 L921.5,479.0 L927.9,478.7 L933.7,476.4 L940.1,474.5 L947.2,475.8 L954.9,475.1 L960.6,472.8 L965.1,470.6 L971.5,472.8 L977.9,470.6 L984.4,471.9 L989.5,472.6 L995.9,465.5 L1002.3,468.7 L1008.7,464.2 L1016.4,465.5 L1024.1,463.6 L1031.8,463.3 L1039.5,465.5 L1043.3,464.6 L1049.1,465.9 L1054.9,462.9 L1061.3,461.0 L1069.0,464.2 L1075.4,459.1 L1080.5,461.7 L1086.9,460.4 L1091.4,461.0 L1097.2,456.5 L1103.6,456.2 L1107.4,457.2 L1113.2,455.3 L1119.0,457.8 L1124.1,454.6 L1130.5,456.5 L1142.1,455.3 L1148.5,455.9 L1154.9,457.2 L1161.3,454.0 L1167.7,455.3 L1172.8,455.9 L1179.2,454.6 L1180.0,454.6 L1186.4,454.6 L1191.5,453.1 L1196.7,453.6 L1201.8,454.6 L1208.2,453.1 L1214.6,454.0 L1221.0,452.1 L1227.4,450.1 L1231.3,452.1 L1237.7,451.8 L1242.8,452.3 L1249.2,450.1 L1254.4,452.1 L1262.1,454.0 L1268.5,452.7 L1275.5,449.7 L1282.6,451.0 L1289.0,450.8 L1295.4,452.1 L1303.1,450.8 L1309.5,451.4 L1315.9,448.8 L1322.3,451.0 L1331.3,452.1 L1337.7,450.8 L1345.4,453.1 L1352.4,450.8 L1358.2,452.1 L1364.0,454.0 L1369.1,452.1 L1374.9,454.9 L1378.7,452.7 L1383.8,454.0 L1391.5,454.0 L1397.9,455.3 L1405.6,457.2 L1412.7,453.1 L1417.8,455.9 L1426.2,454.0 L1431.3,455.9 L1437.7,455.3 L1445.4,456.5 L1453.1,459.7 L1458.2,458.2 L1466.5,456.1 L1473.4,458.8 L1480.9,460.9 L1486.4,458.6 L1494.0,464.1 L1501.5,459.9 L1506.3,461.3 L1511.8,465.7 L1520.1,463.2 L1525.5,465.7 L1532.4,466.0 L1539.3,468.5 L1543.4,466.0 L1550.3,471.2 L1555.8,468.7 L1561.3,470.9 L1565.4,469.8 L1572.3,473.3 L1580.5,472.9 L1592.9,472.9 L1599.7,477.4 L1606.6,476.7 L1612.8,482.9 L1619.0,481.1 L1629.9,481.9 L1636.8,484.7 L1640.9,484.7 L1647.8,487.7 L1656.0,487.7 L1664.3,491.8 L1669.8,494.6 L1675.3,492.5 L1682.1,499.4 L1691.8,502.8 L1697.3,506.9 L1702.7,513.8 L1708.2,515.9 L1719.2,526.2 L1726.1,527.8 L1734.3,532.3 L1741.0,538.6 L1746.0,541.4"/></g>
<g stroke="#00f"><path id="i-blue" class="crisp" stroke-width="6.2" d="M910.6,335.0 L915.6,332.0 L922.8,328.5 L927.9,328.1 L933.7,321.3 L940.8,317.8 L949.1,311.0 L956.2,313.3 L963.8,310.1 L971.5,304.1 L979.2,303.1 L983.1,301.8 L989.5,295.1 L998.5,295.6 L1007.4,289.6 L1019.0,288.3 L1022.8,286.4 L1029.2,279.7 L1036.3,278.7 L1042.1,274.9 L1048.5,276.4 L1052.3,275.5 L1058.7,269.1 L1061.9,268.5 L1065.8,272.3 L1070.3,271.0 L1074.1,266.2 L1080.5,264.6 L1085.0,266.5 L1088.8,260.8 L1092.1,259.5 L1097.8,262.1 L1106.2,258.8 L1120.3,258.2 L1127.9,253.7 L1134.4,251.8 L1140.8,252.8 L1147.2,252.8 L1153.6,249.9 L1157.4,249.9 L1162.6,247.3 L1174.1,246.0 L1179.2,248.2 L1180.0,247.7 L1187.7,244.9 L1194.1,243.6 L1199.2,244.2 L1202.4,245.9 L1206.9,243.6 L1214.0,240.4 L1219.7,242.9 L1226.8,238.5 L1231.3,239.7 L1236.4,237.2 L1240.9,236.5 L1247.9,237.8 L1253.7,242.9 L1258.2,239.7 L1264.6,239.1 L1271.0,235.9 L1278.7,234.4 L1282.6,235.3 L1286.4,238.5 L1292.8,239.1 L1296.7,239.7 L1301.8,236.5 L1306.3,237.8 L1311.4,234.4 L1321.0,235.6 L1326.2,237.8 L1332.6,236.5 L1337.7,239.7 L1349.2,239.7 L1355.6,238.5 L1363.3,241.7 L1372.3,238.5 L1378.7,241.7 L1385.1,241.3 L1389.0,239.5 L1396.7,240.4 L1401.8,243.6 L1409.5,245.5 L1415.9,242.9 L1422.3,243.6 L1426.2,246.8 L1432.6,245.5 L1436.4,248.1 L1439.0,251.9 L1443.5,249.4 L1448.6,252.6 L1454.4,247.4 L1456.2,248.2 L1461.0,252.6 L1466.5,253.7 L1470.6,254.4 L1476.1,257.9 L1480.9,258.5 L1485.0,251.0 L1489.1,251.0 L1494.0,257.9 L1498.1,259.2 L1503.6,258.5 L1510.4,264.0 L1515.2,263.4 L1520.1,264.5 L1526.2,262.0 L1531.7,262.3 L1537.9,267.5 L1544.8,267.2 L1551.0,271.3 L1558.5,271.9 L1562.0,274.1 L1566.8,274.6 L1575.0,276.4 L1579.1,276.0 L1582.6,278.5 L1588.0,275.4 L1593.5,278.5 L1597.7,277.4 L1602.5,277.8 L1606.6,278.2 L1611.4,282.6 L1615.5,279.6 L1621.7,282.6 L1628.6,283.7 L1638.2,289.5 L1643.7,287.4 L1649.9,293.6 L1655.4,291.5 L1658.8,296.3 L1662.9,295.6 L1669.8,302.5 L1687.6,302.5 L1693.1,308.7 L1704.1,308.7 L1707.6,312.8 L1715.1,312.8 L1722.0,319.7 L1728.8,321.0 L1735.0,324.5 L1741.0,324.5 L1746.0,325.7"/><path stroke-width="4.6" d="M910.6,335.0 L915.6,332.0 L922.8,328.5 L927.9,328.1 L933.7,321.3 L940.8,317.8 L949.1,311.0 L956.2,313.3 L963.8,310.1 L971.5,304.1 L979.2,303.1 L983.1,301.8 L989.5,295.1 L998.5,295.6 L1007.4,289.6 L1019.0,288.3 L1022.8,286.4 L1029.2,279.7 L1036.3,278.7 L1042.1,274.9 L1048.5,276.4 L1052.3,275.5 L1058.7,269.1 L1061.9,268.5 L1065.8,272.3 L1070.3,271.0 L1074.1,266.2 L1080.5,264.6 L1085.0,266.5 L1088.8,260.8 L1092.1,259.5 L1097.8,262.1 L1106.2,258.8 L1120.3,258.2 L1127.9,253.7 L1134.4,251.8 L1140.8,252.8 L1147.2,252.8 L1153.6,249.9 L1157.4,249.9 L1162.6,247.3 L1174.1,246.0 L1179.2,248.2 L1180.0,247.7 L1187.7,244.9 L1194.1,243.6 L1199.2,244.2 L1202.4,245.9 L1206.9,243.6 L1214.0,240.4 L1219.7,242.9 L1226.8,238.5 L1231.3,239.7 L1236.4,237.2 L1240.9,236.5 L1247.9,237.8 L1253.7,242.9 L1258.2,239.7 L1264.6,239.1 L1271.0,235.9 L1278.7,234.4 L1282.6,235.3 L1286.4,238.5 L1292.8,239.1 L1296.7,239.7 L1301.8,236.5 L1306.3,237.8 L1311.4,234.4 L1321.0,235.6 L1326.2,237.8 L1332.6,236.5 L1337.7,239.7 L1349.2,239.7 L1355.6,238.5 L1363.3,241.7 L1372.3,238.5 L1378.7,241.7 L1385.1,241.3 L1389.0,239.5 L1396.7,240.4 L1401.8,243.6 L1409.5,245.5 L1415.9,242.9 L1422.3,243.6 L1426.2,246.8 L1432.6,245.5 L1436.4,248.1 L1439.0,251.9 L1443.5,249.4 L1448.6,252.6 L1454.4,247.4 L1456.2,248.2 L1461.0,252.6 L1466.5,253.7 L1470.6,254.4 L1476.1,257.9 L1480.9,258.5 L1485.0,251.0 L1489.1,251.0 L1494.0,257.9 L1498.1,259.2 L1503.6,258.5 L1510.4,264.0 L1515.2,263.4 L1520.1,264.5 L1526.2,262.0 L1531.7,262.3 L1537.9,267.5 L1544.8,267.2 L1551.0,271.3 L1558.5,271.9 L1562.0,274.1 L1566.8,274.6 L1575.0,276.4 L1579.1,276.0 L1582.6,278.5 L1588.0,275.4 L1593.5,278.5 L1597.7,277.4 L1602.5,277.8 L1606.6,278.2 L1611.4,282.6 L1615.5,279.6 L1621.7,282.6 L1628.6,283.7 L1638.2,289.5 L1643.7,287.4 L1649.9,293.6 L1655.4,291.5 L1658.8,296.3 L1662.9,295.6 L1669.8,302.5 L1687.6,302.5 L1693.1,308.7 L1704.1,308.7 L1707.6,312.8 L1715.1,312.8 L1722.0,319.7 L1728.8,321.0 L1735.0,324.5 L1741.0,324.5 L1746.0,325.7"/></g>
</g></g>
</svg></body></html>
